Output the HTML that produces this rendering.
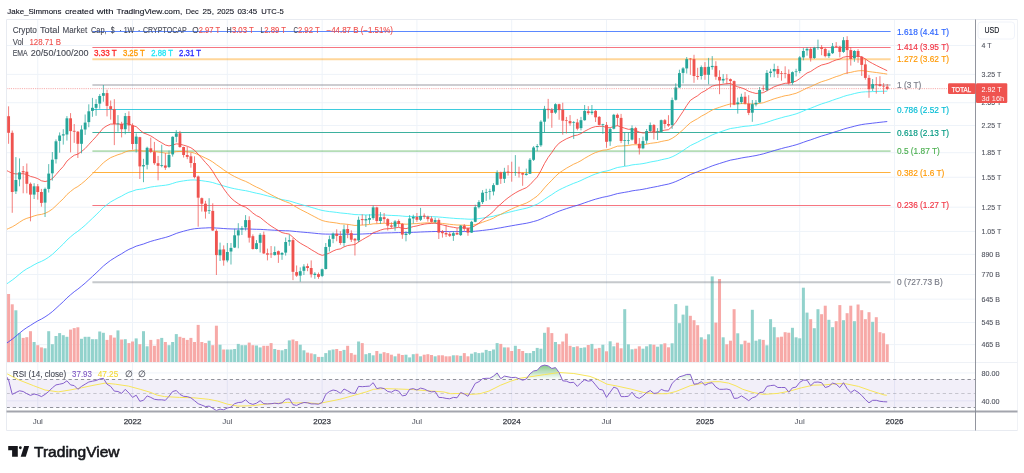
<!DOCTYPE html>
<html><head><meta charset="utf-8"><title>TOTAL chart</title>
<style>html,body{margin:0;padding:0;background:#fff;overflow:hidden}body{width:1024px;height:473px;font-family:"Liberation Sans",sans-serif}</style>
</head><body>
<svg width="1024" height="473" viewBox="0 0 1024 473" style="display:block;font-family:'Liberation Sans', sans-serif">
<filter id="soft" x="0" y="0" width="1024" height="473" filterUnits="userSpaceOnUse"><feGaussianBlur stdDeviation="0.3"/></filter>
<g filter="url(#soft)">
<defs><clipPath id="cp"><rect x="7.0" y="20.0" width="968.0" height="391.0"/></clipPath><clipPath id="c70"><rect x="6.5" y="362.5" width="969.0" height="17.0"/></clipPath><linearGradient id="gg" gradientUnits="userSpaceOnUse" x1="0" y1="358.4" x2="0" y2="379.5"><stop offset="0" stop-color="#4caf50" stop-opacity="1"/><stop offset="1" stop-color="#4caf50" stop-opacity="0"/></linearGradient></defs>
<g stroke="#eef3f9" stroke-width="1" shape-rendering="auto">
<line x1="37.76" y1="19.5" x2="37.76" y2="411.5"/>
<line x1="132.55" y1="19.5" x2="132.55" y2="411.5"/>
<line x1="227.34" y1="19.5" x2="227.34" y2="411.5"/>
<line x1="322.13" y1="19.5" x2="322.13" y2="411.5"/>
<line x1="416.92" y1="19.5" x2="416.92" y2="411.5"/>
<line x1="511.71" y1="19.5" x2="511.71" y2="411.5"/>
<line x1="606.50" y1="19.5" x2="606.50" y2="411.5"/>
<line x1="704.94" y1="19.5" x2="704.94" y2="411.5"/>
<line x1="799.73" y1="19.5" x2="799.73" y2="411.5"/>
<line x1="894.52" y1="19.5" x2="894.52" y2="411.5"/>
<line x1="6.5" y1="45.50" x2="975.5" y2="45.50"/>
<line x1="6.5" y1="74.36" x2="975.5" y2="74.36"/>
<line x1="6.5" y1="102.73" x2="975.5" y2="102.73"/>
<line x1="6.5" y1="125.48" x2="975.5" y2="125.48"/>
<line x1="6.5" y1="152.68" x2="975.5" y2="152.68"/>
<line x1="6.5" y1="177.28" x2="975.5" y2="177.28"/>
<line x1="6.5" y1="207.18" x2="975.5" y2="207.18"/>
<line x1="6.5" y1="231.41" x2="975.5" y2="231.41"/>
<line x1="6.5" y1="254.39" x2="975.5" y2="254.39"/>
<line x1="6.5" y1="274.52" x2="975.5" y2="274.52"/>
<line x1="6.5" y1="299.15" x2="975.5" y2="299.15"/>
<line x1="6.5" y1="322.56" x2="975.5" y2="322.56"/>
<line x1="6.5" y1="344.63" x2="975.5" y2="344.63"/>
<line x1="6.5" y1="372.90" x2="975.5" y2="372.90"/>
<line x1="6.5" y1="400.80" x2="975.5" y2="400.80"/>
</g>
<g clip-path="url(#cp)">
<rect x="7.09" y="294.0" width="3.0" height="68.0" fill="#f7a9a7"/>
<rect x="10.74" y="304.3" width="3.0" height="57.7" fill="#f7a9a7"/>
<rect x="14.38" y="310.3" width="3.0" height="51.7" fill="#92d2cc"/>
<rect x="18.03" y="333.1" width="3.0" height="28.9" fill="#92d2cc"/>
<rect x="21.68" y="337.9" width="3.0" height="24.1" fill="#f7a9a7"/>
<rect x="25.32" y="337.2" width="3.0" height="24.8" fill="#f7a9a7"/>
<rect x="28.97" y="331.2" width="3.0" height="30.8" fill="#f7a9a7"/>
<rect x="32.61" y="342.0" width="3.0" height="20.0" fill="#92d2cc"/>
<rect x="36.26" y="345.2" width="3.0" height="16.8" fill="#f7a9a7"/>
<rect x="39.91" y="347.4" width="3.0" height="14.6" fill="#f7a9a7"/>
<rect x="43.55" y="348.3" width="3.0" height="13.7" fill="#92d2cc"/>
<rect x="47.20" y="331.2" width="3.0" height="30.8" fill="#92d2cc"/>
<rect x="50.84" y="344.2" width="3.0" height="17.8" fill="#92d2cc"/>
<rect x="54.49" y="336.0" width="3.0" height="26.0" fill="#92d2cc"/>
<rect x="58.13" y="333.1" width="3.0" height="28.9" fill="#92d2cc"/>
<rect x="61.78" y="335.2" width="3.0" height="26.8" fill="#92d2cc"/>
<rect x="65.43" y="336.8" width="3.0" height="25.2" fill="#92d2cc"/>
<rect x="69.07" y="329.6" width="3.0" height="32.4" fill="#f7a9a7"/>
<rect x="72.72" y="328.1" width="3.0" height="33.9" fill="#f7a9a7"/>
<rect x="76.36" y="327.3" width="3.0" height="34.7" fill="#f7a9a7"/>
<rect x="80.01" y="338.8" width="3.0" height="23.2" fill="#92d2cc"/>
<rect x="83.65" y="336.8" width="3.0" height="25.2" fill="#92d2cc"/>
<rect x="87.30" y="336.8" width="3.0" height="25.2" fill="#92d2cc"/>
<rect x="90.95" y="339.2" width="3.0" height="22.8" fill="#92d2cc"/>
<rect x="94.59" y="339.2" width="3.0" height="22.8" fill="#92d2cc"/>
<rect x="98.24" y="331.5" width="3.0" height="30.5" fill="#92d2cc"/>
<rect x="101.88" y="332.8" width="3.0" height="29.2" fill="#92d2cc"/>
<rect x="105.53" y="339.9" width="3.0" height="22.1" fill="#f7a9a7"/>
<rect x="109.18" y="335.2" width="3.0" height="26.8" fill="#f7a9a7"/>
<rect x="112.82" y="337.6" width="3.0" height="24.4" fill="#f7a9a7"/>
<rect x="116.47" y="330.4" width="3.0" height="31.6" fill="#92d2cc"/>
<rect x="120.11" y="339.5" width="3.0" height="22.5" fill="#f7a9a7"/>
<rect x="123.76" y="339.2" width="3.0" height="22.8" fill="#92d2cc"/>
<rect x="127.40" y="343.1" width="3.0" height="18.9" fill="#f7a9a7"/>
<rect x="131.05" y="341.5" width="3.0" height="20.5" fill="#f7a9a7"/>
<rect x="134.70" y="338.4" width="3.0" height="23.6" fill="#92d2cc"/>
<rect x="138.34" y="344.2" width="3.0" height="17.8" fill="#f7a9a7"/>
<rect x="141.99" y="331.2" width="3.0" height="30.8" fill="#92d2cc"/>
<rect x="145.63" y="346.3" width="3.0" height="15.7" fill="#92d2cc"/>
<rect x="149.28" y="339.9" width="3.0" height="22.1" fill="#f7a9a7"/>
<rect x="152.92" y="345.8" width="3.0" height="16.2" fill="#f7a9a7"/>
<rect x="156.57" y="339.2" width="3.0" height="22.8" fill="#f7a9a7"/>
<rect x="160.22" y="337.9" width="3.0" height="24.1" fill="#92d2cc"/>
<rect x="163.86" y="342.0" width="3.0" height="20.0" fill="#f7a9a7"/>
<rect x="167.51" y="345.2" width="3.0" height="16.8" fill="#92d2cc"/>
<rect x="171.15" y="342.0" width="3.0" height="20.0" fill="#92d2cc"/>
<rect x="174.80" y="334.1" width="3.0" height="27.9" fill="#92d2cc"/>
<rect x="178.45" y="336.8" width="3.0" height="25.2" fill="#f7a9a7"/>
<rect x="182.09" y="337.9" width="3.0" height="24.1" fill="#f7a9a7"/>
<rect x="185.74" y="339.9" width="3.0" height="22.1" fill="#f7a9a7"/>
<rect x="189.38" y="337.9" width="3.0" height="24.1" fill="#f7a9a7"/>
<rect x="193.03" y="342.0" width="3.0" height="20.0" fill="#f7a9a7"/>
<rect x="196.67" y="324.9" width="3.0" height="37.1" fill="#f7a9a7"/>
<rect x="200.32" y="342.0" width="3.0" height="20.0" fill="#f7a9a7"/>
<rect x="203.97" y="343.1" width="3.0" height="18.9" fill="#f7a9a7"/>
<rect x="207.61" y="340.7" width="3.0" height="21.3" fill="#92d2cc"/>
<rect x="211.26" y="345.2" width="3.0" height="16.8" fill="#f7a9a7"/>
<rect x="214.90" y="325.7" width="3.0" height="36.3" fill="#f7a9a7"/>
<rect x="218.55" y="344.7" width="3.0" height="17.3" fill="#92d2cc"/>
<rect x="222.19" y="349.5" width="3.0" height="12.5" fill="#f7a9a7"/>
<rect x="225.84" y="349.5" width="3.0" height="12.5" fill="#92d2cc"/>
<rect x="229.49" y="349.5" width="3.0" height="12.5" fill="#92d2cc"/>
<rect x="233.13" y="349.0" width="3.0" height="13.0" fill="#92d2cc"/>
<rect x="236.78" y="343.9" width="3.0" height="18.1" fill="#92d2cc"/>
<rect x="240.42" y="345.2" width="3.0" height="16.8" fill="#92d2cc"/>
<rect x="244.07" y="345.2" width="3.0" height="16.8" fill="#92d2cc"/>
<rect x="247.72" y="342.6" width="3.0" height="19.4" fill="#f7a9a7"/>
<rect x="251.36" y="345.2" width="3.0" height="16.8" fill="#f7a9a7"/>
<rect x="255.01" y="345.5" width="3.0" height="16.5" fill="#92d2cc"/>
<rect x="258.65" y="347.4" width="3.0" height="14.6" fill="#92d2cc"/>
<rect x="262.30" y="345.8" width="3.0" height="16.2" fill="#f7a9a7"/>
<rect x="265.94" y="345.8" width="3.0" height="16.2" fill="#f7a9a7"/>
<rect x="269.59" y="343.1" width="3.0" height="18.9" fill="#f7a9a7"/>
<rect x="273.24" y="349.0" width="3.0" height="13.0" fill="#92d2cc"/>
<rect x="276.88" y="349.9" width="3.0" height="12.1" fill="#f7a9a7"/>
<rect x="280.53" y="350.3" width="3.0" height="11.7" fill="#92d2cc"/>
<rect x="284.17" y="349.0" width="3.0" height="13.0" fill="#92d2cc"/>
<rect x="287.82" y="340.4" width="3.0" height="21.6" fill="#92d2cc"/>
<rect x="291.47" y="339.5" width="3.0" height="22.5" fill="#f7a9a7"/>
<rect x="295.11" y="341.1" width="3.0" height="20.9" fill="#f7a9a7"/>
<rect x="298.76" y="344.7" width="3.0" height="17.3" fill="#92d2cc"/>
<rect x="302.40" y="350.3" width="3.0" height="11.7" fill="#92d2cc"/>
<rect x="306.05" y="352.6" width="3.0" height="9.4" fill="#f7a9a7"/>
<rect x="309.69" y="353.4" width="3.0" height="8.6" fill="#f7a9a7"/>
<rect x="313.34" y="354.2" width="3.0" height="7.8" fill="#92d2cc"/>
<rect x="316.99" y="356.9" width="3.0" height="5.1" fill="#f7a9a7"/>
<rect x="320.63" y="356.9" width="3.0" height="5.1" fill="#92d2cc"/>
<rect x="324.28" y="353.1" width="3.0" height="8.9" fill="#92d2cc"/>
<rect x="327.92" y="350.3" width="3.0" height="11.7" fill="#92d2cc"/>
<rect x="331.57" y="349.5" width="3.0" height="12.5" fill="#92d2cc"/>
<rect x="335.21" y="349.0" width="3.0" height="13.0" fill="#f7a9a7"/>
<rect x="338.86" y="351.0" width="3.0" height="11.0" fill="#f7a9a7"/>
<rect x="342.51" y="349.9" width="3.0" height="12.1" fill="#92d2cc"/>
<rect x="346.15" y="345.8" width="3.0" height="16.2" fill="#f7a9a7"/>
<rect x="349.80" y="353.1" width="3.0" height="8.9" fill="#f7a9a7"/>
<rect x="353.44" y="354.7" width="3.0" height="7.3" fill="#f7a9a7"/>
<rect x="357.09" y="341.5" width="3.0" height="20.5" fill="#92d2cc"/>
<rect x="360.74" y="343.1" width="3.0" height="18.9" fill="#f7a9a7"/>
<rect x="364.38" y="354.2" width="3.0" height="7.8" fill="#92d2cc"/>
<rect x="368.03" y="353.1" width="3.0" height="8.9" fill="#92d2cc"/>
<rect x="371.67" y="355.3" width="3.0" height="6.7" fill="#92d2cc"/>
<rect x="375.32" y="351.0" width="3.0" height="11.0" fill="#f7a9a7"/>
<rect x="378.96" y="353.7" width="3.0" height="8.3" fill="#92d2cc"/>
<rect x="382.61" y="352.2" width="3.0" height="9.8" fill="#f7a9a7"/>
<rect x="386.26" y="353.1" width="3.0" height="8.9" fill="#f7a9a7"/>
<rect x="389.90" y="354.7" width="3.0" height="7.3" fill="#f7a9a7"/>
<rect x="393.55" y="356.3" width="3.0" height="5.7" fill="#92d2cc"/>
<rect x="397.19" y="353.7" width="3.0" height="8.3" fill="#f7a9a7"/>
<rect x="400.84" y="355.0" width="3.0" height="7.0" fill="#f7a9a7"/>
<rect x="404.49" y="354.7" width="3.0" height="7.3" fill="#92d2cc"/>
<rect x="408.13" y="357.4" width="3.0" height="4.6" fill="#92d2cc"/>
<rect x="411.78" y="354.2" width="3.0" height="7.8" fill="#92d2cc"/>
<rect x="415.42" y="353.7" width="3.0" height="8.3" fill="#f7a9a7"/>
<rect x="419.07" y="356.3" width="3.0" height="5.7" fill="#92d2cc"/>
<rect x="422.71" y="354.7" width="3.0" height="7.3" fill="#f7a9a7"/>
<rect x="426.36" y="354.2" width="3.0" height="7.8" fill="#f7a9a7"/>
<rect x="430.01" y="355.0" width="3.0" height="7.0" fill="#f7a9a7"/>
<rect x="433.65" y="356.3" width="3.0" height="5.7" fill="#92d2cc"/>
<rect x="437.30" y="355.3" width="3.0" height="6.7" fill="#f7a9a7"/>
<rect x="440.94" y="355.3" width="3.0" height="6.7" fill="#f7a9a7"/>
<rect x="444.59" y="356.3" width="3.0" height="5.7" fill="#f7a9a7"/>
<rect x="448.23" y="356.3" width="3.0" height="5.7" fill="#f7a9a7"/>
<rect x="451.88" y="355.3" width="3.0" height="6.7" fill="#92d2cc"/>
<rect x="455.53" y="355.3" width="3.0" height="6.7" fill="#f7a9a7"/>
<rect x="459.17" y="355.8" width="3.0" height="6.2" fill="#92d2cc"/>
<rect x="462.82" y="353.1" width="3.0" height="8.9" fill="#f7a9a7"/>
<rect x="466.46" y="356.3" width="3.0" height="5.7" fill="#f7a9a7"/>
<rect x="470.11" y="353.7" width="3.0" height="8.3" fill="#92d2cc"/>
<rect x="473.76" y="352.2" width="3.0" height="9.8" fill="#92d2cc"/>
<rect x="477.40" y="353.1" width="3.0" height="8.9" fill="#92d2cc"/>
<rect x="481.05" y="352.6" width="3.0" height="9.4" fill="#92d2cc"/>
<rect x="484.69" y="349.9" width="3.0" height="12.1" fill="#92d2cc"/>
<rect x="488.34" y="351.0" width="3.0" height="11.0" fill="#92d2cc"/>
<rect x="491.98" y="349.5" width="3.0" height="12.5" fill="#92d2cc"/>
<rect x="495.63" y="343.1" width="3.0" height="18.9" fill="#92d2cc"/>
<rect x="499.28" y="343.9" width="3.0" height="18.1" fill="#f7a9a7"/>
<rect x="502.92" y="347.4" width="3.0" height="14.6" fill="#92d2cc"/>
<rect x="506.57" y="347.4" width="3.0" height="14.6" fill="#f7a9a7"/>
<rect x="510.21" y="351.0" width="3.0" height="11.0" fill="#f7a9a7"/>
<rect x="513.86" y="345.8" width="3.0" height="16.2" fill="#92d2cc"/>
<rect x="517.50" y="349.0" width="3.0" height="13.0" fill="#f7a9a7"/>
<rect x="521.15" y="351.0" width="3.0" height="11.0" fill="#f7a9a7"/>
<rect x="524.80" y="353.1" width="3.0" height="8.9" fill="#92d2cc"/>
<rect x="528.44" y="353.1" width="3.0" height="8.9" fill="#92d2cc"/>
<rect x="532.09" y="351.0" width="3.0" height="11.0" fill="#92d2cc"/>
<rect x="535.73" y="347.9" width="3.0" height="14.1" fill="#92d2cc"/>
<rect x="539.38" y="348.7" width="3.0" height="13.3" fill="#92d2cc"/>
<rect x="543.03" y="332.8" width="3.0" height="29.2" fill="#92d2cc"/>
<rect x="546.67" y="327.3" width="3.0" height="34.7" fill="#f7a9a7"/>
<rect x="550.32" y="333.1" width="3.0" height="28.9" fill="#f7a9a7"/>
<rect x="553.96" y="342.0" width="3.0" height="20.0" fill="#92d2cc"/>
<rect x="557.61" y="344.2" width="3.0" height="17.8" fill="#f7a9a7"/>
<rect x="561.25" y="341.5" width="3.0" height="20.5" fill="#f7a9a7"/>
<rect x="564.90" y="333.6" width="3.0" height="28.4" fill="#f7a9a7"/>
<rect x="568.55" y="345.8" width="3.0" height="16.2" fill="#f7a9a7"/>
<rect x="572.19" y="347.1" width="3.0" height="14.9" fill="#92d2cc"/>
<rect x="575.84" y="346.3" width="3.0" height="15.7" fill="#f7a9a7"/>
<rect x="579.48" y="347.9" width="3.0" height="14.1" fill="#92d2cc"/>
<rect x="583.13" y="347.4" width="3.0" height="14.6" fill="#92d2cc"/>
<rect x="586.77" y="345.0" width="3.0" height="17.0" fill="#f7a9a7"/>
<rect x="590.42" y="343.9" width="3.0" height="18.1" fill="#92d2cc"/>
<rect x="594.07" y="348.7" width="3.0" height="13.3" fill="#f7a9a7"/>
<rect x="597.71" y="347.9" width="3.0" height="14.1" fill="#f7a9a7"/>
<rect x="601.36" y="344.7" width="3.0" height="17.3" fill="#92d2cc"/>
<rect x="605.00" y="351.3" width="3.0" height="10.7" fill="#f7a9a7"/>
<rect x="608.65" y="341.3" width="3.0" height="20.7" fill="#92d2cc"/>
<rect x="612.30" y="346.3" width="3.0" height="15.7" fill="#92d2cc"/>
<rect x="615.94" y="342.7" width="3.0" height="19.3" fill="#f7a9a7"/>
<rect x="619.59" y="348.3" width="3.0" height="13.7" fill="#f7a9a7"/>
<rect x="623.23" y="309.2" width="3.0" height="52.8" fill="#92d2cc"/>
<rect x="626.88" y="344.3" width="3.0" height="17.7" fill="#92d2cc"/>
<rect x="630.52" y="349.3" width="3.0" height="12.7" fill="#92d2cc"/>
<rect x="634.17" y="348.7" width="3.0" height="13.3" fill="#f7a9a7"/>
<rect x="637.82" y="346.3" width="3.0" height="15.7" fill="#f7a9a7"/>
<rect x="641.46" y="348.7" width="3.0" height="13.3" fill="#92d2cc"/>
<rect x="645.11" y="346.3" width="3.0" height="15.7" fill="#92d2cc"/>
<rect x="648.75" y="344.3" width="3.0" height="17.7" fill="#92d2cc"/>
<rect x="652.40" y="344.7" width="3.0" height="17.3" fill="#f7a9a7"/>
<rect x="656.05" y="346.7" width="3.0" height="15.3" fill="#92d2cc"/>
<rect x="659.69" y="344.3" width="3.0" height="17.7" fill="#92d2cc"/>
<rect x="663.34" y="343.3" width="3.0" height="18.7" fill="#f7a9a7"/>
<rect x="666.98" y="347.3" width="3.0" height="14.7" fill="#f7a9a7"/>
<rect x="670.63" y="343.3" width="3.0" height="18.7" fill="#92d2cc"/>
<rect x="674.27" y="304.1" width="3.0" height="57.9" fill="#92d2cc"/>
<rect x="677.92" y="323.2" width="3.0" height="38.8" fill="#92d2cc"/>
<rect x="681.57" y="314.6" width="3.0" height="47.4" fill="#92d2cc"/>
<rect x="685.21" y="305.7" width="3.0" height="56.3" fill="#92d2cc"/>
<rect x="688.86" y="315.8" width="3.0" height="46.2" fill="#f7a9a7"/>
<rect x="692.50" y="320.2" width="3.0" height="41.8" fill="#f7a9a7"/>
<rect x="696.15" y="325.2" width="3.0" height="36.8" fill="#f7a9a7"/>
<rect x="699.79" y="337.3" width="3.0" height="24.7" fill="#92d2cc"/>
<rect x="703.44" y="339.3" width="3.0" height="22.7" fill="#f7a9a7"/>
<rect x="707.09" y="334.3" width="3.0" height="27.7" fill="#92d2cc"/>
<rect x="710.73" y="276.4" width="3.0" height="85.6" fill="#92d2cc"/>
<rect x="714.38" y="322.6" width="3.0" height="39.4" fill="#f7a9a7"/>
<rect x="718.02" y="279.0" width="3.0" height="83.0" fill="#f7a9a7"/>
<rect x="721.67" y="337.3" width="3.0" height="24.7" fill="#92d2cc"/>
<rect x="725.32" y="344.3" width="3.0" height="17.7" fill="#f7a9a7"/>
<rect x="728.96" y="340.7" width="3.0" height="21.3" fill="#f7a9a7"/>
<rect x="732.61" y="309.2" width="3.0" height="52.8" fill="#f7a9a7"/>
<rect x="736.25" y="333.3" width="3.0" height="28.7" fill="#92d2cc"/>
<rect x="739.90" y="344.3" width="3.0" height="17.7" fill="#92d2cc"/>
<rect x="743.54" y="340.7" width="3.0" height="21.3" fill="#f7a9a7"/>
<rect x="747.19" y="342.7" width="3.0" height="19.3" fill="#f7a9a7"/>
<rect x="750.84" y="309.8" width="3.0" height="52.2" fill="#92d2cc"/>
<rect x="754.48" y="340.7" width="3.0" height="21.3" fill="#92d2cc"/>
<rect x="758.13" y="339.3" width="3.0" height="22.7" fill="#92d2cc"/>
<rect x="761.77" y="339.9" width="3.0" height="22.1" fill="#f7a9a7"/>
<rect x="765.42" y="345.3" width="3.0" height="16.7" fill="#92d2cc"/>
<rect x="769.07" y="319.2" width="3.0" height="42.8" fill="#92d2cc"/>
<rect x="772.71" y="327.2" width="3.0" height="34.8" fill="#92d2cc"/>
<rect x="776.36" y="337.3" width="3.0" height="24.7" fill="#f7a9a7"/>
<rect x="780.00" y="336.7" width="3.0" height="25.3" fill="#f7a9a7"/>
<rect x="783.65" y="332.2" width="3.0" height="29.8" fill="#f7a9a7"/>
<rect x="787.29" y="332.7" width="3.0" height="29.3" fill="#f7a9a7"/>
<rect x="790.94" y="327.8" width="3.0" height="34.2" fill="#92d2cc"/>
<rect x="794.59" y="337.3" width="3.0" height="24.7" fill="#92d2cc"/>
<rect x="798.23" y="338.3" width="3.0" height="23.7" fill="#92d2cc"/>
<rect x="801.88" y="287.7" width="3.0" height="74.3" fill="#92d2cc"/>
<rect x="805.52" y="312.6" width="3.0" height="49.4" fill="#92d2cc"/>
<rect x="809.17" y="319.2" width="3.0" height="42.8" fill="#f7a9a7"/>
<rect x="812.81" y="328.2" width="3.0" height="33.8" fill="#92d2cc"/>
<rect x="816.46" y="309.2" width="3.0" height="52.8" fill="#92d2cc"/>
<rect x="820.11" y="314.2" width="3.0" height="47.8" fill="#f7a9a7"/>
<rect x="823.75" y="305.7" width="3.0" height="56.3" fill="#f7a9a7"/>
<rect x="827.40" y="319.8" width="3.0" height="42.2" fill="#92d2cc"/>
<rect x="831.04" y="327.2" width="3.0" height="34.8" fill="#92d2cc"/>
<rect x="834.69" y="321.2" width="3.0" height="40.8" fill="#f7a9a7"/>
<rect x="838.34" y="305.1" width="3.0" height="56.9" fill="#f7a9a7"/>
<rect x="841.98" y="320.2" width="3.0" height="41.8" fill="#92d2cc"/>
<rect x="845.63" y="313.2" width="3.0" height="48.8" fill="#f7a9a7"/>
<rect x="849.27" y="305.7" width="3.0" height="56.3" fill="#f7a9a7"/>
<rect x="852.92" y="321.2" width="3.0" height="40.8" fill="#92d2cc"/>
<rect x="856.56" y="304.5" width="3.0" height="57.5" fill="#f7a9a7"/>
<rect x="860.21" y="310.2" width="3.0" height="51.8" fill="#f7a9a7"/>
<rect x="863.86" y="319.2" width="3.0" height="42.8" fill="#f7a9a7"/>
<rect x="867.50" y="312.2" width="3.0" height="49.8" fill="#f7a9a7"/>
<rect x="871.15" y="321.8" width="3.0" height="40.2" fill="#92d2cc"/>
<rect x="874.79" y="317.2" width="3.0" height="44.8" fill="#f7a9a7"/>
<rect x="878.44" y="332.2" width="3.0" height="29.8" fill="#f7a9a7"/>
<rect x="882.08" y="333.3" width="3.0" height="28.7" fill="#f7a9a7"/>
<rect x="885.73" y="344.3" width="3.0" height="17.7" fill="#f7a9a7"/>
<line x1="92.4" y1="31.50" x2="890.6" y2="31.50" stroke="#2962ff" stroke-width="0.85" stroke-opacity="0.9"/>
<line x1="92.4" y1="47.50" x2="890.6" y2="47.50" stroke="#f23645" stroke-width="0.85" stroke-opacity="0.8"/>
<line x1="92.4" y1="59.20" x2="890.6" y2="59.20" stroke="#ff9800" stroke-width="1.9" stroke-opacity="0.4"/>
<line x1="92.4" y1="85.00" x2="890.6" y2="85.00" stroke="#787b86" stroke-width="1.9" stroke-opacity="0.38"/>
<line x1="92.4" y1="109.50" x2="890.6" y2="109.50" stroke="#00bcd4" stroke-width="0.85" stroke-opacity="0.9"/>
<line x1="92.4" y1="132.50" x2="890.6" y2="132.50" stroke="#089981" stroke-width="0.85" stroke-opacity="0.9"/>
<line x1="92.4" y1="151.20" x2="890.6" y2="151.20" stroke="#4caf50" stroke-width="1.8" stroke-opacity="0.42"/>
<line x1="92.4" y1="172.50" x2="890.6" y2="172.50" stroke="#ff9800" stroke-width="0.85" stroke-opacity="0.9"/>
<line x1="92.4" y1="205.50" x2="890.6" y2="205.50" stroke="#f23645" stroke-width="0.85" stroke-opacity="0.8"/>
<line x1="92.4" y1="282.20" x2="890.6" y2="282.20" stroke="#787b86" stroke-width="2.0" stroke-opacity="0.42"/>
<polyline points="6.50,343.32 8.59,341.80 12.24,339.15 15.88,336.21 19.53,333.14 23.18,330.16 26.82,327.60 30.47,325.40 34.11,323.04 37.76,320.89 41.41,319.05 45.05,316.92 48.70,314.45 52.34,311.65 55.99,308.36 59.63,304.99 63.28,301.69 66.93,297.95 70.57,294.78 74.22,291.72 77.86,289.12 81.51,286.17 85.15,283.11 88.80,279.77 92.45,276.43 96.09,273.07 99.74,269.55 103.38,266.06 107.03,263.09 110.68,260.32 114.32,258.03 117.97,255.79 121.61,253.75 125.26,251.43 128.90,249.40 132.55,247.84 136.20,246.16 139.84,245.09 143.49,244.02 147.13,242.64 150.78,241.38 154.42,240.33 158.07,239.36 161.72,238.38 165.36,237.47 169.01,236.35 172.65,234.91 176.30,233.43 179.95,232.25 183.59,231.22 187.24,230.25 190.88,229.39 194.53,228.76 198.17,228.41 201.82,228.14 205.47,227.97 209.11,227.78 212.76,227.81 216.40,228.05 220.05,228.25 223.69,228.54 227.34,228.75 230.99,228.93 234.63,228.99 238.28,229.01 241.92,229.00 245.57,228.91 249.22,228.99 252.86,229.18 256.51,229.31 260.15,229.36 263.80,229.58 267.44,229.81 271.09,230.04 274.74,230.24 278.38,230.46 282.03,230.67 285.67,230.78 289.32,230.87 292.97,231.22 296.61,231.60 300.26,231.94 303.90,232.25 307.55,232.56 311.19,232.92 314.84,233.28 318.49,233.65 322.13,233.96 325.78,234.09 329.42,234.14 333.07,234.13 336.71,234.15 340.36,234.24 344.01,234.19 347.65,234.18 351.30,234.23 354.94,234.29 358.59,234.14 362.24,233.99 365.88,233.84 369.53,233.67 373.17,233.38 376.82,233.25 380.46,233.08 384.11,232.94 387.76,232.86 391.40,232.80 395.05,232.68 398.69,232.59 402.34,232.61 405.99,232.62 409.63,232.48 413.28,232.31 416.92,232.18 420.57,232.01 424.21,231.85 427.86,231.72 431.51,231.62 435.15,231.50 438.80,231.51 442.44,231.52 446.09,231.55 449.73,231.59 453.38,231.61 457.03,231.64 460.67,231.58 464.32,231.55 467.96,231.56 471.61,231.46 475.26,231.20 478.90,230.87 482.55,230.44 486.19,230.00 489.84,229.56 493.48,229.04 497.13,228.34 500.78,227.75 504.42,227.07 508.07,226.41 511.71,225.76 515.36,225.11 519.00,224.49 522.65,223.89 526.30,223.29 529.94,222.49 533.59,221.51 537.23,220.51 540.88,219.09 544.53,217.42 548.17,215.82 551.82,214.31 555.46,212.65 559.11,211.15 562.75,209.89 566.40,208.65 570.05,207.49 573.69,206.32 577.34,205.29 580.98,204.13 584.63,202.81 588.27,201.56 591.92,200.31 595.57,199.18 599.21,198.21 602.86,197.24 606.50,196.56 610.15,195.70 613.80,194.61 617.44,193.60 621.09,192.96 624.73,192.32 628.38,191.69 632.02,190.89 635.67,190.34 639.32,189.85 642.96,189.27 646.61,188.55 650.25,187.75 653.90,187.08 657.55,186.40 661.19,185.56 664.84,184.79 668.48,184.06 672.13,182.91 675.77,181.56 679.42,179.93 683.07,178.24 686.71,176.37 690.36,174.56 694.00,173.14 697.65,171.76 701.29,170.22 704.94,168.86 708.59,167.37 712.23,165.89 715.88,164.65 719.52,163.51 723.17,162.35 726.82,161.23 730.46,160.15 734.11,159.47 737.75,158.77 741.40,158.00 745.04,157.34 748.69,156.82 752.34,156.18 755.98,155.54 759.63,154.71 763.27,153.87 766.92,152.78 770.57,151.69 774.21,150.57 777.86,149.56 781.50,148.56 785.15,147.57 788.79,146.76 792.44,145.78 796.09,144.81 799.73,143.60 803.38,142.30 807.02,140.98 810.67,139.86 814.31,138.56 817.96,137.28 821.61,136.06 825.25,134.99 828.90,133.88 832.54,132.68 836.19,131.50 839.84,130.43 843.48,129.17 847.13,128.12 850.77,127.23 854.42,126.22 858.06,125.33 861.71,124.58 865.36,124.03 869.00,123.63 872.65,123.18 876.29,122.74 879.94,122.32 883.58,121.91 887.23,121.54" fill="none" stroke="#4646f5" stroke-width="0.85" stroke-linejoin="round" />
<polyline points="6.50,284.04 8.59,282.60 12.24,280.09 15.88,277.22 19.53,274.16 23.18,271.22 26.82,268.83 30.47,266.90 34.11,264.75 37.76,262.87 41.41,261.39 45.05,259.52 48.70,257.19 52.34,254.42 55.99,251.00 59.63,247.48 63.28,244.06 66.93,240.07 70.57,236.83 74.22,233.75 77.86,231.27 81.51,228.33 85.15,225.23 88.80,221.78 92.45,218.32 96.09,214.86 99.74,211.18 103.38,207.55 107.03,204.61 110.68,201.92 114.32,199.87 117.97,197.87 121.61,196.12 125.26,193.99 128.90,192.25 132.55,191.11 136.20,189.79 139.84,189.29 143.49,188.77 147.13,187.83 150.78,187.02 154.42,186.50 158.07,186.06 161.72,185.61 165.36,185.23 169.01,184.57 172.65,183.44 176.30,182.25 179.95,181.46 183.59,180.89 187.24,180.37 190.88,180.00 194.53,179.94 198.17,180.27 201.82,180.70 205.47,181.25 209.11,181.77 212.76,182.59 216.40,183.71 220.05,184.75 223.69,185.91 227.34,186.96 230.99,187.94 234.63,188.74 238.28,189.45 241.92,190.12 245.57,190.66 249.22,191.45 252.86,192.39 256.51,193.23 260.15,193.94 263.80,194.91 267.44,195.87 271.09,196.82 274.74,197.73 278.38,198.65 282.03,199.55 285.67,200.27 289.32,200.96 292.97,202.07 296.61,203.20 300.26,204.27 303.90,205.27 307.55,206.27 311.19,207.34 314.84,208.39 318.49,209.47 322.13,210.43 325.78,211.07 329.42,211.58 333.07,211.98 336.71,212.42 340.36,212.96 344.01,213.27 347.65,213.64 351.30,214.11 354.94,214.59 358.59,214.69 362.24,214.79 365.88,214.88 369.53,214.94 373.17,214.79 376.82,214.91 380.46,214.95 384.11,215.03 387.76,215.24 391.40,215.45 395.05,215.57 398.69,215.73 402.34,216.08 405.99,216.41 409.63,216.45 413.28,216.46 416.92,216.52 420.57,216.51 424.21,216.51 427.86,216.57 431.51,216.67 435.15,216.74 438.80,217.03 442.44,217.34 446.09,217.66 449.73,217.99 453.38,218.28 457.03,218.58 460.67,218.72 464.32,218.91 467.96,219.17 471.61,219.22 475.26,218.97 478.90,218.62 482.55,218.05 486.19,217.49 489.84,216.92 493.48,216.21 497.13,215.20 500.78,214.38 504.42,213.40 508.07,212.47 511.71,211.56 515.36,210.66 519.00,209.82 522.65,209.03 526.30,208.23 529.94,207.09 533.59,205.62 537.23,204.16 540.88,201.95 544.53,199.34 548.17,196.89 551.82,194.62 555.46,192.12 559.11,189.93 562.75,188.16 566.40,186.46 570.05,184.88 573.69,183.32 577.34,182.00 580.98,180.47 584.63,178.69 588.27,177.04 591.92,175.40 595.57,173.98 599.21,172.82 602.86,171.67 606.50,171.01 610.15,170.05 613.80,168.71 617.44,167.50 621.09,166.92 624.73,166.34 628.38,165.76 632.02,164.91 635.67,164.46 639.32,164.12 642.96,163.62 646.61,162.90 650.25,162.04 653.90,161.38 657.55,160.72 661.19,159.80 664.84,158.99 668.48,158.24 672.13,156.82 675.77,155.05 679.42,152.86 683.07,150.58 686.71,148.04 690.36,145.60 694.00,143.82 697.65,142.13 701.29,140.17 704.94,138.53 708.59,136.68 712.23,134.87 715.88,133.45 719.52,132.18 723.17,130.90 726.82,129.66 730.46,128.52 734.11,128.00 737.75,127.45 741.40,126.77 745.04,126.27 748.69,125.99 752.34,125.53 755.98,125.04 759.63,124.25 763.27,123.46 766.92,122.26 770.57,121.05 774.21,119.81 777.86,118.74 781.50,117.69 785.15,116.66 788.79,115.91 792.44,114.90 796.09,113.89 799.73,112.52 803.38,111.00 807.02,109.45 810.67,108.23 814.31,106.74 817.96,105.28 821.61,103.91 825.25,102.78 828.90,101.61 832.54,100.27 836.19,98.98 839.84,97.87 843.48,96.47 847.13,95.38 850.77,94.56 854.42,93.55 858.06,92.72 861.71,92.11 865.36,91.81 869.00,91.76 872.65,91.60 876.29,91.47 879.94,91.36 883.58,91.26 887.23,91.21" fill="none" stroke="#3cf0fa" stroke-width="0.85" stroke-linejoin="round" />
<polyline points="6.50,229.43 8.59,228.50 12.24,226.87 15.88,224.70 19.53,222.24 23.18,219.90 26.82,218.30 30.47,217.29 34.11,215.93 37.76,214.91 41.41,214.42 45.05,213.33 48.70,211.54 52.34,209.09 55.99,205.71 59.63,202.17 63.28,198.78 66.93,194.57 70.57,191.45 74.22,188.55 77.86,186.50 81.51,183.76 85.15,180.78 88.80,177.29 92.45,173.80 96.09,170.29 99.74,166.49 103.38,162.75 107.03,160.02 110.68,157.63 114.32,156.15 117.97,154.71 121.61,153.62 125.26,151.94 128.90,150.80 132.55,150.52 136.20,149.95 139.84,150.56 143.49,151.10 147.13,150.97 150.78,151.00 154.42,151.46 158.07,152.00 161.72,152.49 165.36,153.05 169.01,153.13 172.65,152.45 176.30,151.65 179.95,151.47 183.59,151.60 187.24,151.81 190.88,152.23 194.53,153.13 198.17,154.63 201.82,156.26 205.47,158.06 209.11,159.78 212.76,161.97 216.40,164.66 220.05,167.17 223.69,169.86 227.34,172.31 230.99,174.62 234.63,176.56 238.28,178.32 241.92,179.98 245.57,181.35 249.22,183.18 252.86,185.25 256.51,187.12 260.15,188.71 263.80,190.76 267.44,192.78 271.09,194.75 274.74,196.60 278.38,198.47 282.03,200.25 285.67,201.68 289.32,203.00 292.97,205.15 296.61,207.33 300.26,209.35 303.90,211.20 307.55,213.04 311.19,215.00 314.84,216.89 318.49,218.82 322.13,220.49 325.78,221.44 329.42,222.10 333.07,222.53 336.71,223.03 340.36,223.77 344.01,223.98 347.65,224.33 351.30,224.90 354.94,225.48 358.59,225.26 362.24,225.05 365.88,224.81 369.53,224.54 373.17,223.83 376.82,223.72 380.46,223.46 384.11,223.28 387.76,223.38 391.40,223.51 395.05,223.42 398.69,223.44 402.34,223.86 405.99,224.23 409.63,224.01 413.28,223.72 416.92,223.56 420.57,223.25 424.21,222.99 427.86,222.84 431.51,222.80 435.15,222.69 438.80,223.07 442.44,223.45 446.09,223.87 449.73,224.32 453.38,224.66 457.03,225.03 460.67,225.05 464.32,225.20 467.96,225.48 471.61,225.33 475.26,224.58 478.90,223.62 482.55,222.27 486.19,220.96 489.84,219.67 493.48,218.14 497.13,216.03 500.78,214.37 504.42,212.43 508.07,210.64 511.71,208.95 515.36,207.31 519.00,205.81 522.65,204.44 526.30,203.10 529.94,201.12 533.59,198.58 537.23,196.10 540.88,192.29 544.53,187.87 548.17,183.85 551.82,180.26 555.46,176.35 559.11,173.06 562.75,170.59 566.40,168.26 570.05,166.20 573.69,164.18 577.34,162.60 580.98,160.67 584.63,158.34 588.27,156.26 591.92,154.21 595.57,152.56 599.21,151.37 602.86,150.20 606.50,149.86 610.15,148.98 613.80,147.47 617.44,146.18 621.09,145.98 624.73,145.74 628.38,145.51 632.02,144.78 635.67,144.74 639.32,144.88 642.96,144.73 646.61,144.17 650.25,143.36 653.90,142.92 657.55,142.45 661.19,141.50 664.84,140.77 668.48,140.15 672.13,138.34 675.77,135.95 679.42,132.87 683.07,129.69 686.71,126.13 690.36,122.80 694.00,120.64 697.65,118.64 701.29,116.21 704.94,114.33 708.59,112.13 712.23,109.99 715.88,108.53 719.52,107.31 723.17,106.08 726.82,104.93 730.46,103.91 734.11,103.94 737.75,103.88 741.40,103.60 745.04,103.60 748.69,103.95 752.34,103.96 755.98,103.91 759.63,103.34 763.27,102.75 766.92,101.45 770.57,100.15 774.21,98.79 777.86,97.73 781.50,96.70 785.15,95.72 788.79,95.20 792.44,94.22 796.09,93.26 799.73,91.66 803.38,89.82 807.02,87.97 810.67,86.68 814.31,84.92 817.96,83.23 821.61,81.71 825.25,80.62 828.90,79.43 832.54,77.97 836.19,76.60 839.84,75.55 843.48,73.98 847.13,72.96 850.77,72.39 854.42,71.48 858.06,70.87 861.71,70.63 865.36,70.91 869.00,71.58 872.65,72.05 876.29,72.53 879.94,73.04 883.58,73.54 887.23,74.11" fill="none" stroke="#ffa033" stroke-width="0.85" stroke-linejoin="round" />
<polyline points="6.50,170.45 8.59,171.50 12.24,173.33 15.88,173.95 19.53,173.80 23.18,173.67 26.82,174.60 30.47,176.39 34.11,177.30 37.76,178.64 41.41,180.77 45.05,181.53 48.70,180.75 52.34,178.60 55.99,174.59 59.63,170.35 63.28,166.49 66.93,161.11 70.57,157.95 74.22,155.23 77.86,154.10 81.51,151.56 85.15,148.53 88.80,144.52 92.45,140.57 96.09,136.64 99.74,132.22 103.38,127.98 107.03,125.72 110.68,124.05 114.32,124.05 117.97,123.99 121.61,124.48 125.26,123.66 128.90,123.83 132.55,125.63 136.20,126.63 139.84,129.97 143.49,132.96 147.13,134.30 150.78,135.88 154.42,138.26 158.07,140.66 161.72,142.80 165.36,144.99 169.01,145.91 172.65,145.02 176.30,143.87 179.95,144.17 183.59,145.16 187.24,146.24 190.88,147.75 194.53,150.29 198.17,154.17 201.82,158.20 205.47,162.49 209.11,166.39 212.76,171.37 216.40,177.49 220.05,182.95 223.69,188.73 227.34,193.65 230.99,198.00 234.63,201.15 238.28,203.68 241.92,205.84 245.57,207.14 249.22,209.78 252.86,213.07 256.51,215.67 260.15,217.39 263.80,220.44 267.44,223.36 271.09,226.04 274.74,228.31 278.38,230.62 282.03,232.60 285.67,233.47 289.32,234.10 292.97,237.28 296.61,240.51 300.26,243.15 303.90,245.22 307.55,247.23 311.19,249.60 314.84,251.73 318.49,253.94 322.13,255.33 325.78,254.51 329.42,252.99 333.07,251.03 336.71,249.52 340.36,248.88 344.01,246.90 347.65,245.54 351.30,244.98 354.94,244.54 358.59,241.99 362.24,239.75 365.88,237.64 369.53,235.66 373.17,232.71 376.82,231.55 380.46,230.12 384.11,229.03 387.76,228.71 391.40,228.52 395.05,227.82 398.69,227.44 402.34,228.11 405.99,228.63 409.63,227.63 413.28,226.57 416.92,225.91 420.57,224.92 424.21,224.13 427.86,223.64 431.51,223.47 435.15,223.15 438.80,224.02 442.44,224.87 446.09,225.76 449.73,226.69 453.38,227.29 457.03,227.96 460.67,227.74 464.32,227.84 467.96,228.28 471.61,227.65 475.26,225.57 478.90,223.16 482.55,219.95 486.19,217.06 489.84,214.38 493.48,211.31 497.13,207.11 500.78,204.15 504.42,200.72 508.07,197.81 511.71,195.23 515.36,192.87 519.00,190.88 522.65,189.25 526.30,187.69 529.94,184.78 533.59,180.76 537.23,177.05 540.88,170.72 544.53,163.48 548.17,157.42 551.82,152.51 555.46,147.11 559.11,143.13 562.75,140.83 566.40,138.81 570.05,137.25 573.69,135.74 577.34,135.05 580.98,133.57 584.63,131.24 588.27,129.41 591.92,127.61 595.57,126.59 599.21,126.43 602.86,126.22 606.50,127.63 610.15,127.77 613.80,126.48 617.44,125.64 621.09,127.03 624.73,128.22 628.38,129.30 632.02,129.18 635.67,130.51 639.32,132.11 642.96,132.94 646.61,132.75 650.25,132.00 653.90,132.04 657.55,131.97 661.19,130.81 664.84,130.15 668.48,129.71 672.13,126.60 675.77,122.36 679.42,116.84 683.07,111.43 686.71,105.51 690.36,100.38 694.00,97.87 697.65,95.73 701.29,92.73 704.94,90.92 708.59,88.44 712.23,86.13 715.88,85.20 719.52,84.75 723.17,84.18 726.82,83.71 730.46,83.46 734.11,85.34 737.75,86.87 741.40,87.79 745.04,89.22 748.69,91.31 752.34,92.49 755.98,93.44 759.63,93.11 763.27,92.72 766.92,90.71 770.57,88.77 774.21,86.76 777.86,85.48 781.50,84.32 785.15,83.26 788.79,83.24 792.44,82.15 796.09,81.09 799.73,78.65 803.38,75.77 807.02,72.98 810.67,71.51 814.31,69.05 817.96,66.82 821.61,65.01 825.25,64.14 828.90,63.06 832.54,61.37 836.19,59.91 839.84,59.12 843.48,57.21 847.13,56.51 850.77,56.75 854.42,56.19 858.06,56.24 861.71,57.04 865.36,58.90 869.00,61.52 872.65,63.52 876.29,65.41 879.94,67.24 883.58,68.96 887.23,70.74" fill="none" stroke="#f5443e" stroke-width="0.85" stroke-linejoin="round" />
<line x1="8.59" y1="106.3" x2="8.59" y2="143.8" stroke="#ef5350" stroke-width="0.75"/>
<rect x="7.17" y="116.2" width="2.85" height="16.6" fill="#ef5350"/>
<line x1="12.24" y1="130.5" x2="12.24" y2="212.8" stroke="#ef5350" stroke-width="0.75"/>
<rect x="10.81" y="132.8" width="2.85" height="59.2" fill="#ef5350"/>
<line x1="15.88" y1="157.1" x2="15.88" y2="194.0" stroke="#26a69a" stroke-width="0.75"/>
<rect x="14.46" y="180.0" width="2.85" height="11.4" fill="#26a69a"/>
<line x1="19.53" y1="158.4" x2="19.53" y2="186.3" stroke="#26a69a" stroke-width="0.75"/>
<rect x="18.11" y="172.4" width="2.85" height="7.0" fill="#26a69a"/>
<line x1="23.18" y1="166.0" x2="23.18" y2="193.3" stroke="#ef5350" stroke-width="0.75"/>
<rect x="21.75" y="171.1" width="2.85" height="1.3" fill="#ef5350"/>
<line x1="26.82" y1="163.5" x2="26.82" y2="193.3" stroke="#ef5350" stroke-width="0.75"/>
<rect x="25.40" y="171.7" width="2.85" height="12.1" fill="#ef5350"/>
<line x1="30.47" y1="182.5" x2="30.47" y2="221.3" stroke="#ef5350" stroke-width="0.75"/>
<rect x="29.04" y="183.8" width="2.85" height="10.8" fill="#ef5350"/>
<line x1="34.11" y1="183.2" x2="34.11" y2="199.0" stroke="#26a69a" stroke-width="0.75"/>
<rect x="32.69" y="186.3" width="2.85" height="8.3" fill="#26a69a"/>
<line x1="37.76" y1="184.0" x2="37.76" y2="199.7" stroke="#ef5350" stroke-width="0.75"/>
<rect x="36.33" y="186.3" width="2.85" height="5.7" fill="#ef5350"/>
<line x1="41.41" y1="188.9" x2="41.41" y2="206.7" stroke="#ef5350" stroke-width="0.75"/>
<rect x="39.98" y="192.0" width="2.85" height="10.9" fill="#ef5350"/>
<line x1="45.05" y1="187.6" x2="45.05" y2="217.0" stroke="#26a69a" stroke-width="0.75"/>
<rect x="43.63" y="188.9" width="2.85" height="13.7" fill="#26a69a"/>
<line x1="48.70" y1="164.1" x2="48.70" y2="192.5" stroke="#26a69a" stroke-width="0.75"/>
<rect x="47.27" y="173.6" width="2.85" height="15.3" fill="#26a69a"/>
<line x1="52.34" y1="152.0" x2="52.34" y2="180.6" stroke="#26a69a" stroke-width="0.75"/>
<rect x="50.92" y="159.7" width="2.85" height="13.6" fill="#26a69a"/>
<line x1="55.99" y1="139.4" x2="55.99" y2="163.5" stroke="#26a69a" stroke-width="0.75"/>
<rect x="54.56" y="141.3" width="2.85" height="17.9" fill="#26a69a"/>
<line x1="59.63" y1="132.4" x2="59.63" y2="152.7" stroke="#26a69a" stroke-width="0.75"/>
<rect x="58.21" y="135.5" width="2.85" height="5.4" fill="#26a69a"/>
<line x1="63.28" y1="129.2" x2="63.28" y2="144.6" stroke="#26a69a" stroke-width="0.75"/>
<rect x="61.85" y="134.3" width="2.85" height="1.2" fill="#26a69a"/>
<line x1="66.93" y1="116.1" x2="66.93" y2="140.6" stroke="#26a69a" stroke-width="0.75"/>
<rect x="65.50" y="118.3" width="2.85" height="16.2" fill="#26a69a"/>
<line x1="70.57" y1="113.1" x2="70.57" y2="152.4" stroke="#ef5350" stroke-width="0.75"/>
<rect x="69.15" y="118.3" width="2.85" height="12.8" fill="#ef5350"/>
<line x1="74.22" y1="124.0" x2="74.22" y2="142.9" stroke="#ef5350" stroke-width="0.75"/>
<rect x="72.79" y="130.8" width="2.85" height="0.9" fill="#ef5350"/>
<line x1="77.86" y1="131.0" x2="77.86" y2="158.0" stroke="#ef5350" stroke-width="0.75"/>
<rect x="76.44" y="131.7" width="2.85" height="12.1" fill="#ef5350"/>
<line x1="81.51" y1="125.4" x2="81.51" y2="153.3" stroke="#26a69a" stroke-width="0.75"/>
<rect x="80.08" y="129.5" width="2.85" height="14.3" fill="#26a69a"/>
<line x1="85.15" y1="114.5" x2="85.15" y2="134.9" stroke="#26a69a" stroke-width="0.75"/>
<rect x="83.73" y="122.6" width="2.85" height="6.9" fill="#26a69a"/>
<line x1="88.80" y1="104.3" x2="88.80" y2="127.2" stroke="#26a69a" stroke-width="0.75"/>
<rect x="87.38" y="111.3" width="2.85" height="10.8" fill="#26a69a"/>
<line x1="92.45" y1="97.9" x2="92.45" y2="116.8" stroke="#26a69a" stroke-width="0.75"/>
<rect x="91.02" y="107.8" width="2.85" height="3.1" fill="#26a69a"/>
<line x1="96.09" y1="99.2" x2="96.09" y2="115.8" stroke="#26a69a" stroke-width="0.75"/>
<rect x="94.67" y="104.0" width="2.85" height="3.8" fill="#26a69a"/>
<line x1="99.74" y1="94.1" x2="99.74" y2="108.7" stroke="#26a69a" stroke-width="0.75"/>
<rect x="98.31" y="96.0" width="2.85" height="7.6" fill="#26a69a"/>
<line x1="103.38" y1="85.0" x2="103.38" y2="101.7" stroke="#26a69a" stroke-width="0.75"/>
<rect x="101.96" y="93.1" width="2.85" height="2.7" fill="#26a69a"/>
<line x1="107.03" y1="89.7" x2="107.03" y2="116.4" stroke="#ef5350" stroke-width="0.75"/>
<rect x="105.60" y="93.1" width="2.85" height="12.8" fill="#ef5350"/>
<line x1="110.68" y1="100.5" x2="110.68" y2="119.6" stroke="#ef5350" stroke-width="0.75"/>
<rect x="109.25" y="106.2" width="2.85" height="2.9" fill="#ef5350"/>
<line x1="114.32" y1="99.2" x2="114.32" y2="145.1" stroke="#ef5350" stroke-width="0.75"/>
<rect x="112.90" y="109.1" width="2.85" height="14.9" fill="#ef5350"/>
<line x1="117.97" y1="115.1" x2="117.97" y2="131.7" stroke="#26a69a" stroke-width="0.75"/>
<rect x="116.54" y="123.5" width="2.85" height="0.7" fill="#26a69a"/>
<line x1="121.61" y1="121.8" x2="121.61" y2="137.4" stroke="#ef5350" stroke-width="0.75"/>
<rect x="120.19" y="123.8" width="2.85" height="5.4" fill="#ef5350"/>
<line x1="125.26" y1="113.0" x2="125.26" y2="134.3" stroke="#26a69a" stroke-width="0.75"/>
<rect x="123.83" y="116.1" width="2.85" height="13.1" fill="#26a69a"/>
<line x1="128.90" y1="111.3" x2="128.90" y2="131.6" stroke="#ef5350" stroke-width="0.75"/>
<rect x="127.48" y="116.0" width="2.85" height="9.4" fill="#ef5350"/>
<line x1="132.55" y1="123.3" x2="132.55" y2="149.7" stroke="#ef5350" stroke-width="0.75"/>
<rect x="131.12" y="125.3" width="2.85" height="18.7" fill="#ef5350"/>
<line x1="136.20" y1="133.4" x2="136.20" y2="152.5" stroke="#26a69a" stroke-width="0.75"/>
<rect x="134.77" y="136.6" width="2.85" height="7.3" fill="#26a69a"/>
<line x1="139.84" y1="136.8" x2="139.84" y2="179.0" stroke="#ef5350" stroke-width="0.75"/>
<rect x="138.42" y="137.2" width="2.85" height="29.2" fill="#ef5350"/>
<line x1="143.49" y1="158.8" x2="143.49" y2="182.2" stroke="#26a69a" stroke-width="0.75"/>
<rect x="142.06" y="165.1" width="2.85" height="1.3" fill="#26a69a"/>
<line x1="147.13" y1="146.7" x2="147.13" y2="169.4" stroke="#26a69a" stroke-width="0.75"/>
<rect x="145.71" y="147.8" width="2.85" height="17.0" fill="#26a69a"/>
<line x1="150.78" y1="137.6" x2="150.78" y2="153.1" stroke="#ef5350" stroke-width="0.75"/>
<rect x="149.35" y="148.3" width="2.85" height="3.5" fill="#ef5350"/>
<line x1="154.42" y1="141.9" x2="154.42" y2="164.8" stroke="#ef5350" stroke-width="0.75"/>
<rect x="153.00" y="152.1" width="2.85" height="11.1" fill="#ef5350"/>
<line x1="158.07" y1="155.9" x2="158.07" y2="180.3" stroke="#ef5350" stroke-width="0.75"/>
<rect x="156.65" y="163.2" width="2.85" height="2.6" fill="#ef5350"/>
<line x1="161.72" y1="144.8" x2="161.72" y2="167.3" stroke="#26a69a" stroke-width="0.75"/>
<rect x="160.29" y="165.0" width="2.85" height="0.8" fill="#26a69a"/>
<line x1="165.36" y1="153.1" x2="165.36" y2="169.9" stroke="#ef5350" stroke-width="0.75"/>
<rect x="163.94" y="165.5" width="2.85" height="2.2" fill="#ef5350"/>
<line x1="169.01" y1="150.5" x2="169.01" y2="168.1" stroke="#26a69a" stroke-width="0.75"/>
<rect x="167.58" y="155.0" width="2.85" height="12.0" fill="#26a69a"/>
<line x1="172.65" y1="136.3" x2="172.65" y2="156.6" stroke="#26a69a" stroke-width="0.75"/>
<rect x="171.23" y="136.8" width="2.85" height="17.6" fill="#26a69a"/>
<line x1="176.30" y1="130.2" x2="176.30" y2="142.3" stroke="#26a69a" stroke-width="0.75"/>
<rect x="174.87" y="133.4" width="2.85" height="3.4" fill="#26a69a"/>
<line x1="179.95" y1="130.9" x2="179.95" y2="147.8" stroke="#ef5350" stroke-width="0.75"/>
<rect x="178.52" y="133.2" width="2.85" height="13.8" fill="#ef5350"/>
<line x1="183.59" y1="146.7" x2="183.59" y2="157.5" stroke="#ef5350" stroke-width="0.75"/>
<rect x="182.17" y="147.0" width="2.85" height="8.0" fill="#ef5350"/>
<line x1="187.24" y1="146.7" x2="187.24" y2="159.2" stroke="#ef5350" stroke-width="0.75"/>
<rect x="185.81" y="155.0" width="2.85" height="1.9" fill="#ef5350"/>
<line x1="190.88" y1="152.8" x2="190.88" y2="167.7" stroke="#ef5350" stroke-width="0.75"/>
<rect x="189.46" y="156.3" width="2.85" height="6.7" fill="#ef5350"/>
<line x1="194.53" y1="156.3" x2="194.53" y2="178.4" stroke="#ef5350" stroke-width="0.75"/>
<rect x="193.10" y="163.0" width="2.85" height="14.1" fill="#ef5350"/>
<line x1="198.17" y1="175.5" x2="198.17" y2="226.7" stroke="#ef5350" stroke-width="0.75"/>
<rect x="196.75" y="176.5" width="2.85" height="21.2" fill="#ef5350"/>
<line x1="201.82" y1="197.5" x2="201.82" y2="211.6" stroke="#ef5350" stroke-width="0.75"/>
<rect x="200.40" y="198.2" width="2.85" height="5.5" fill="#ef5350"/>
<line x1="205.47" y1="200.8" x2="205.47" y2="218.6" stroke="#ef5350" stroke-width="0.75"/>
<rect x="204.04" y="203.7" width="2.85" height="7.9" fill="#ef5350"/>
<line x1="209.11" y1="198.2" x2="209.11" y2="214.0" stroke="#26a69a" stroke-width="0.75"/>
<rect x="207.69" y="210.2" width="2.85" height="0.7" fill="#26a69a"/>
<line x1="212.76" y1="203.3" x2="212.76" y2="231.0" stroke="#ef5350" stroke-width="0.75"/>
<rect x="211.33" y="210.9" width="2.85" height="19.6" fill="#ef5350"/>
<line x1="216.40" y1="229.3" x2="216.40" y2="275.0" stroke="#ef5350" stroke-width="0.75"/>
<rect x="214.98" y="230.9" width="2.85" height="24.2" fill="#ef5350"/>
<line x1="220.05" y1="242.6" x2="220.05" y2="261.0" stroke="#26a69a" stroke-width="0.75"/>
<rect x="218.62" y="249.6" width="2.85" height="5.7" fill="#26a69a"/>
<line x1="223.69" y1="245.4" x2="223.69" y2="265.7" stroke="#ef5350" stroke-width="0.75"/>
<rect x="222.27" y="249.4" width="2.85" height="11.0" fill="#ef5350"/>
<line x1="227.34" y1="243.0" x2="227.34" y2="262.3" stroke="#26a69a" stroke-width="0.75"/>
<rect x="225.92" y="252.0" width="2.85" height="8.4" fill="#26a69a"/>
<line x1="230.99" y1="243.0" x2="230.99" y2="264.5" stroke="#26a69a" stroke-width="0.75"/>
<rect x="229.56" y="247.9" width="2.85" height="3.6" fill="#26a69a"/>
<line x1="234.63" y1="228.6" x2="234.63" y2="248.0" stroke="#26a69a" stroke-width="0.75"/>
<rect x="233.21" y="235.3" width="2.85" height="12.2" fill="#26a69a"/>
<line x1="238.28" y1="223.2" x2="238.28" y2="248.3" stroke="#26a69a" stroke-width="0.75"/>
<rect x="236.85" y="230.3" width="2.85" height="5.1" fill="#26a69a"/>
<line x1="241.92" y1="226.1" x2="241.92" y2="235.0" stroke="#26a69a" stroke-width="0.75"/>
<rect x="240.50" y="228.3" width="2.85" height="1.2" fill="#26a69a"/>
<line x1="245.57" y1="215.1" x2="245.57" y2="230.5" stroke="#26a69a" stroke-width="0.75"/>
<rect x="244.14" y="220.1" width="2.85" height="7.3" fill="#26a69a"/>
<line x1="249.22" y1="216.3" x2="249.22" y2="242.6" stroke="#ef5350" stroke-width="0.75"/>
<rect x="247.79" y="220.1" width="2.85" height="17.6" fill="#ef5350"/>
<line x1="252.86" y1="234.4" x2="252.86" y2="249.6" stroke="#ef5350" stroke-width="0.75"/>
<rect x="251.44" y="236.2" width="2.85" height="12.8" fill="#ef5350"/>
<line x1="256.51" y1="240.1" x2="256.51" y2="249.4" stroke="#26a69a" stroke-width="0.75"/>
<rect x="255.08" y="243.2" width="2.85" height="5.8" fill="#26a69a"/>
<line x1="260.15" y1="233.1" x2="260.15" y2="252.5" stroke="#26a69a" stroke-width="0.75"/>
<rect x="258.73" y="234.8" width="2.85" height="8.0" fill="#26a69a"/>
<line x1="263.80" y1="231.6" x2="263.80" y2="254.0" stroke="#ef5350" stroke-width="0.75"/>
<rect x="262.37" y="234.8" width="2.85" height="18.6" fill="#ef5350"/>
<line x1="267.44" y1="248.6" x2="267.44" y2="260.4" stroke="#ef5350" stroke-width="0.75"/>
<rect x="266.02" y="253.3" width="2.85" height="1.4" fill="#ef5350"/>
<line x1="271.09" y1="246.0" x2="271.09" y2="257.9" stroke="#ef5350" stroke-width="0.75"/>
<rect x="269.67" y="253.6" width="2.85" height="0.8" fill="#ef5350"/>
<line x1="274.74" y1="246.4" x2="274.74" y2="255.5" stroke="#26a69a" stroke-width="0.75"/>
<rect x="273.31" y="252.0" width="2.85" height="3.1" fill="#26a69a"/>
<line x1="278.38" y1="250.5" x2="278.38" y2="262.9" stroke="#ef5350" stroke-width="0.75"/>
<rect x="276.96" y="251.2" width="2.85" height="3.5" fill="#ef5350"/>
<line x1="282.03" y1="252.0" x2="282.03" y2="259.8" stroke="#26a69a" stroke-width="0.75"/>
<rect x="280.60" y="253.0" width="2.85" height="1.7" fill="#26a69a"/>
<line x1="285.67" y1="237.5" x2="285.67" y2="255.6" stroke="#26a69a" stroke-width="0.75"/>
<rect x="284.25" y="242.0" width="2.85" height="10.6" fill="#26a69a"/>
<line x1="289.32" y1="234.5" x2="289.32" y2="245.8" stroke="#26a69a" stroke-width="0.75"/>
<rect x="287.89" y="240.2" width="2.85" height="1.4" fill="#26a69a"/>
<line x1="292.97" y1="238.0" x2="292.97" y2="280.1" stroke="#ef5350" stroke-width="0.75"/>
<rect x="291.54" y="240.1" width="2.85" height="31.7" fill="#ef5350"/>
<line x1="296.61" y1="265.5" x2="296.61" y2="276.9" stroke="#ef5350" stroke-width="0.75"/>
<rect x="295.19" y="272.1" width="2.85" height="3.5" fill="#ef5350"/>
<line x1="300.26" y1="267.4" x2="300.26" y2="281.7" stroke="#26a69a" stroke-width="0.75"/>
<rect x="298.83" y="271.2" width="2.85" height="4.4" fill="#26a69a"/>
<line x1="303.90" y1="264.2" x2="303.90" y2="275.0" stroke="#26a69a" stroke-width="0.75"/>
<rect x="302.48" y="266.5" width="2.85" height="4.3" fill="#26a69a"/>
<line x1="307.55" y1="263.6" x2="307.55" y2="271.2" stroke="#ef5350" stroke-width="0.75"/>
<rect x="306.12" y="266.1" width="2.85" height="1.9" fill="#ef5350"/>
<line x1="311.19" y1="260.4" x2="311.19" y2="277.5" stroke="#ef5350" stroke-width="0.75"/>
<rect x="309.77" y="268.0" width="2.85" height="6.4" fill="#ef5350"/>
<line x1="314.84" y1="272.1" x2="314.84" y2="278.8" stroke="#26a69a" stroke-width="0.75"/>
<rect x="313.42" y="273.7" width="2.85" height="1.3" fill="#26a69a"/>
<line x1="318.49" y1="272.5" x2="318.49" y2="278.8" stroke="#ef5350" stroke-width="0.75"/>
<rect x="317.06" y="274.1" width="2.85" height="2.8" fill="#ef5350"/>
<line x1="322.13" y1="268.6" x2="322.13" y2="277.1" stroke="#26a69a" stroke-width="0.75"/>
<rect x="320.71" y="269.3" width="2.85" height="6.6" fill="#26a69a"/>
<line x1="325.78" y1="243.0" x2="325.78" y2="269.5" stroke="#26a69a" stroke-width="0.75"/>
<rect x="324.35" y="247.0" width="2.85" height="22.0" fill="#26a69a"/>
<line x1="329.42" y1="235.6" x2="329.42" y2="251.5" stroke="#26a69a" stroke-width="0.75"/>
<rect x="328.00" y="239.3" width="2.85" height="7.5" fill="#26a69a"/>
<line x1="333.07" y1="232.5" x2="333.07" y2="243.2" stroke="#26a69a" stroke-width="0.75"/>
<rect x="331.64" y="233.7" width="2.85" height="5.1" fill="#26a69a"/>
<line x1="336.71" y1="229.3" x2="336.71" y2="241.3" stroke="#ef5350" stroke-width="0.75"/>
<rect x="335.29" y="233.7" width="2.85" height="2.2" fill="#ef5350"/>
<line x1="340.36" y1="231.2" x2="340.36" y2="244.8" stroke="#ef5350" stroke-width="0.75"/>
<rect x="338.94" y="235.9" width="2.85" height="7.1" fill="#ef5350"/>
<line x1="344.01" y1="224.8" x2="344.01" y2="246.4" stroke="#26a69a" stroke-width="0.75"/>
<rect x="342.58" y="229.3" width="2.85" height="13.7" fill="#26a69a"/>
<line x1="347.65" y1="224.5" x2="347.65" y2="238.2" stroke="#ef5350" stroke-width="0.75"/>
<rect x="346.23" y="229.0" width="2.85" height="4.3" fill="#ef5350"/>
<line x1="351.30" y1="230.3" x2="351.30" y2="242.0" stroke="#ef5350" stroke-width="0.75"/>
<rect x="349.87" y="233.1" width="2.85" height="6.6" fill="#ef5350"/>
<line x1="354.94" y1="238.0" x2="354.94" y2="255.5" stroke="#ef5350" stroke-width="0.75"/>
<rect x="353.52" y="238.8" width="2.85" height="1.7" fill="#ef5350"/>
<line x1="358.59" y1="216.6" x2="358.59" y2="242.2" stroke="#26a69a" stroke-width="0.75"/>
<rect x="357.16" y="219.8" width="2.85" height="20.6" fill="#26a69a"/>
<line x1="362.24" y1="214.3" x2="362.24" y2="225.2" stroke="#ef5350" stroke-width="0.75"/>
<rect x="360.81" y="219.1" width="2.85" height="1.0" fill="#ef5350"/>
<line x1="365.88" y1="215.1" x2="365.88" y2="227.0" stroke="#26a69a" stroke-width="0.75"/>
<rect x="364.46" y="219.1" width="2.85" height="1.3" fill="#26a69a"/>
<line x1="369.53" y1="214.3" x2="369.53" y2="223.9" stroke="#26a69a" stroke-width="0.75"/>
<rect x="368.10" y="218.1" width="2.85" height="1.7" fill="#26a69a"/>
<line x1="373.17" y1="205.4" x2="373.17" y2="219.8" stroke="#26a69a" stroke-width="0.75"/>
<rect x="371.75" y="207.4" width="2.85" height="10.7" fill="#26a69a"/>
<line x1="376.82" y1="206.7" x2="376.82" y2="223.6" stroke="#ef5350" stroke-width="0.75"/>
<rect x="375.39" y="207.4" width="2.85" height="13.6" fill="#ef5350"/>
<line x1="380.46" y1="212.1" x2="380.46" y2="223.9" stroke="#26a69a" stroke-width="0.75"/>
<rect x="379.04" y="217.2" width="2.85" height="3.8" fill="#26a69a"/>
<line x1="384.11" y1="213.0" x2="384.11" y2="222.9" stroke="#ef5350" stroke-width="0.75"/>
<rect x="382.69" y="217.2" width="2.85" height="1.9" fill="#ef5350"/>
<line x1="387.76" y1="218.1" x2="387.76" y2="230.5" stroke="#ef5350" stroke-width="0.75"/>
<rect x="386.33" y="219.1" width="2.85" height="6.6" fill="#ef5350"/>
<line x1="391.40" y1="222.3" x2="391.40" y2="228.3" stroke="#ef5350" stroke-width="0.75"/>
<rect x="389.98" y="225.5" width="2.85" height="1.2" fill="#ef5350"/>
<line x1="395.05" y1="220.1" x2="395.05" y2="230.8" stroke="#26a69a" stroke-width="0.75"/>
<rect x="393.62" y="221.4" width="2.85" height="5.3" fill="#26a69a"/>
<line x1="398.69" y1="219.4" x2="398.69" y2="227.0" stroke="#ef5350" stroke-width="0.75"/>
<rect x="397.27" y="221.0" width="2.85" height="2.9" fill="#ef5350"/>
<line x1="402.34" y1="223.2" x2="402.34" y2="238.8" stroke="#ef5350" stroke-width="0.75"/>
<rect x="400.91" y="223.9" width="2.85" height="10.7" fill="#ef5350"/>
<line x1="405.99" y1="231.2" x2="405.99" y2="241.3" stroke="#26a69a" stroke-width="0.75"/>
<rect x="404.56" y="233.7" width="2.85" height="1.3" fill="#26a69a"/>
<line x1="409.63" y1="215.1" x2="409.63" y2="235.0" stroke="#26a69a" stroke-width="0.75"/>
<rect x="408.21" y="218.5" width="2.85" height="15.2" fill="#26a69a"/>
<line x1="413.28" y1="214.7" x2="413.28" y2="223.6" stroke="#26a69a" stroke-width="0.75"/>
<rect x="411.85" y="216.8" width="2.85" height="1.7" fill="#26a69a"/>
<line x1="416.92" y1="213.0" x2="416.92" y2="221.9" stroke="#ef5350" stroke-width="0.75"/>
<rect x="415.50" y="216.8" width="2.85" height="3.0" fill="#ef5350"/>
<line x1="420.57" y1="207.9" x2="420.57" y2="221.0" stroke="#26a69a" stroke-width="0.75"/>
<rect x="419.14" y="215.9" width="2.85" height="3.9" fill="#26a69a"/>
<line x1="424.21" y1="213.4" x2="424.21" y2="218.9" stroke="#ef5350" stroke-width="0.75"/>
<rect x="422.79" y="215.6" width="2.85" height="1.2" fill="#ef5350"/>
<line x1="427.86" y1="215.6" x2="427.86" y2="221.7" stroke="#ef5350" stroke-width="0.75"/>
<rect x="426.43" y="216.6" width="2.85" height="2.5" fill="#ef5350"/>
<line x1="431.51" y1="216.3" x2="431.51" y2="222.7" stroke="#ef5350" stroke-width="0.75"/>
<rect x="430.08" y="218.5" width="2.85" height="3.4" fill="#ef5350"/>
<line x1="435.15" y1="217.6" x2="435.15" y2="223.6" stroke="#26a69a" stroke-width="0.75"/>
<rect x="433.73" y="220.1" width="2.85" height="1.8" fill="#26a69a"/>
<line x1="438.80" y1="218.4" x2="438.80" y2="239.0" stroke="#ef5350" stroke-width="0.75"/>
<rect x="437.37" y="220.0" width="2.85" height="12.6" fill="#ef5350"/>
<line x1="442.44" y1="230.0" x2="442.44" y2="237.6" stroke="#ef5350" stroke-width="0.75"/>
<rect x="441.02" y="231.5" width="2.85" height="1.7" fill="#ef5350"/>
<line x1="446.09" y1="225.0" x2="446.09" y2="237.0" stroke="#ef5350" stroke-width="0.75"/>
<rect x="444.66" y="233.0" width="2.85" height="1.5" fill="#ef5350"/>
<line x1="449.73" y1="232.0" x2="449.73" y2="237.0" stroke="#ef5350" stroke-width="0.75"/>
<rect x="448.31" y="233.9" width="2.85" height="1.9" fill="#ef5350"/>
<line x1="453.38" y1="231.0" x2="453.38" y2="240.9" stroke="#26a69a" stroke-width="0.75"/>
<rect x="451.96" y="233.2" width="2.85" height="2.6" fill="#26a69a"/>
<line x1="457.03" y1="228.2" x2="457.03" y2="234.8" stroke="#ef5350" stroke-width="0.75"/>
<rect x="455.60" y="233.0" width="2.85" height="1.5" fill="#ef5350"/>
<line x1="460.67" y1="225.0" x2="460.67" y2="236.0" stroke="#26a69a" stroke-width="0.75"/>
<rect x="459.25" y="225.6" width="2.85" height="9.5" fill="#26a69a"/>
<line x1="464.32" y1="224.1" x2="464.32" y2="231.0" stroke="#ef5350" stroke-width="0.75"/>
<rect x="462.89" y="225.6" width="2.85" height="3.2" fill="#ef5350"/>
<line x1="467.96" y1="227.5" x2="467.96" y2="235.8" stroke="#ef5350" stroke-width="0.75"/>
<rect x="466.54" y="228.2" width="2.85" height="4.4" fill="#ef5350"/>
<line x1="471.61" y1="220.8" x2="471.61" y2="233.0" stroke="#26a69a" stroke-width="0.75"/>
<rect x="470.18" y="221.8" width="2.85" height="10.8" fill="#26a69a"/>
<line x1="475.26" y1="204.7" x2="475.26" y2="222.2" stroke="#26a69a" stroke-width="0.75"/>
<rect x="473.83" y="207.2" width="2.85" height="14.6" fill="#26a69a"/>
<line x1="478.90" y1="200.2" x2="478.90" y2="208.5" stroke="#26a69a" stroke-width="0.75"/>
<rect x="477.48" y="202.1" width="2.85" height="5.1" fill="#26a69a"/>
<line x1="482.55" y1="190.1" x2="482.55" y2="204.0" stroke="#26a69a" stroke-width="0.75"/>
<rect x="481.12" y="192.7" width="2.85" height="9.4" fill="#26a69a"/>
<line x1="486.19" y1="188.8" x2="486.19" y2="200.9" stroke="#26a69a" stroke-width="0.75"/>
<rect x="484.77" y="192.2" width="2.85" height="0.7" fill="#26a69a"/>
<line x1="489.84" y1="188.8" x2="489.84" y2="199.6" stroke="#26a69a" stroke-width="0.75"/>
<rect x="488.41" y="191.2" width="2.85" height="0.7" fill="#26a69a"/>
<line x1="493.48" y1="183.2" x2="493.48" y2="195.4" stroke="#26a69a" stroke-width="0.75"/>
<rect x="492.06" y="185.1" width="2.85" height="6.4" fill="#26a69a"/>
<line x1="497.13" y1="170.3" x2="497.13" y2="185.2" stroke="#26a69a" stroke-width="0.75"/>
<rect x="495.70" y="172.5" width="2.85" height="12.3" fill="#26a69a"/>
<line x1="500.78" y1="171.6" x2="500.78" y2="183.9" stroke="#ef5350" stroke-width="0.75"/>
<rect x="499.35" y="172.2" width="2.85" height="6.6" fill="#ef5350"/>
<line x1="504.42" y1="167.8" x2="504.42" y2="183.0" stroke="#26a69a" stroke-width="0.75"/>
<rect x="503.00" y="171.8" width="2.85" height="7.0" fill="#26a69a"/>
<line x1="508.07" y1="165.2" x2="508.07" y2="175.6" stroke="#ef5350" stroke-width="0.75"/>
<rect x="506.64" y="171.6" width="2.85" height="1.2" fill="#ef5350"/>
<line x1="511.71" y1="161.7" x2="511.71" y2="181.7" stroke="#ef5350" stroke-width="0.75"/>
<rect x="510.29" y="172.2" width="2.85" height="0.7" fill="#ef5350"/>
<line x1="515.36" y1="155.1" x2="515.36" y2="175.9" stroke="#26a69a" stroke-width="0.75"/>
<rect x="513.93" y="172.2" width="2.85" height="0.7" fill="#26a69a"/>
<line x1="519.00" y1="166.7" x2="519.00" y2="177.5" stroke="#ef5350" stroke-width="0.75"/>
<rect x="517.58" y="172.1" width="2.85" height="1.2" fill="#ef5350"/>
<line x1="522.65" y1="172.5" x2="522.65" y2="185.8" stroke="#ef5350" stroke-width="0.75"/>
<rect x="521.23" y="173.1" width="2.85" height="1.5" fill="#ef5350"/>
<line x1="526.30" y1="168.6" x2="526.30" y2="175.6" stroke="#26a69a" stroke-width="0.75"/>
<rect x="524.87" y="173.7" width="2.85" height="1.3" fill="#26a69a"/>
<line x1="529.94" y1="158.1" x2="529.94" y2="174.0" stroke="#26a69a" stroke-width="0.75"/>
<rect x="528.52" y="159.8" width="2.85" height="13.9" fill="#26a69a"/>
<line x1="533.59" y1="146.2" x2="533.59" y2="161.0" stroke="#26a69a" stroke-width="0.75"/>
<rect x="532.16" y="147.5" width="2.85" height="12.3" fill="#26a69a"/>
<line x1="537.23" y1="144.0" x2="537.23" y2="151.2" stroke="#26a69a" stroke-width="0.75"/>
<rect x="535.81" y="146.0" width="2.85" height="1.2" fill="#26a69a"/>
<line x1="540.88" y1="120.2" x2="540.88" y2="146.9" stroke="#26a69a" stroke-width="0.75"/>
<rect x="539.45" y="121.7" width="2.85" height="23.6" fill="#26a69a"/>
<line x1="544.53" y1="105.9" x2="544.53" y2="132.5" stroke="#26a69a" stroke-width="0.75"/>
<rect x="543.10" y="108.8" width="2.85" height="12.9" fill="#26a69a"/>
<line x1="548.17" y1="98.9" x2="548.17" y2="118.6" stroke="#ef5350" stroke-width="0.75"/>
<rect x="546.75" y="108.8" width="2.85" height="1.3" fill="#ef5350"/>
<line x1="551.82" y1="108.0" x2="551.82" y2="127.8" stroke="#ef5350" stroke-width="0.75"/>
<rect x="550.39" y="109.7" width="2.85" height="3.2" fill="#ef5350"/>
<line x1="555.46" y1="103.3" x2="555.46" y2="113.9" stroke="#26a69a" stroke-width="0.75"/>
<rect x="554.04" y="104.2" width="2.85" height="8.4" fill="#26a69a"/>
<line x1="559.11" y1="103.7" x2="559.11" y2="119.8" stroke="#ef5350" stroke-width="0.75"/>
<rect x="557.68" y="104.2" width="2.85" height="5.9" fill="#ef5350"/>
<line x1="562.75" y1="102.7" x2="562.75" y2="134.7" stroke="#ef5350" stroke-width="0.75"/>
<rect x="561.33" y="109.7" width="2.85" height="11.0" fill="#ef5350"/>
<line x1="566.40" y1="116.9" x2="566.40" y2="133.4" stroke="#ef5350" stroke-width="0.75"/>
<rect x="564.98" y="120.2" width="2.85" height="0.7" fill="#ef5350"/>
<line x1="570.05" y1="115.1" x2="570.05" y2="125.8" stroke="#ef5350" stroke-width="0.75"/>
<rect x="568.62" y="121.1" width="2.85" height="2.2" fill="#ef5350"/>
<line x1="573.69" y1="121.1" x2="573.69" y2="138.9" stroke="#26a69a" stroke-width="0.75"/>
<rect x="572.27" y="122.1" width="2.85" height="0.7" fill="#26a69a"/>
<line x1="577.34" y1="118.9" x2="577.34" y2="130.4" stroke="#ef5350" stroke-width="0.75"/>
<rect x="575.91" y="122.4" width="2.85" height="6.3" fill="#ef5350"/>
<line x1="580.98" y1="116.9" x2="580.98" y2="130.4" stroke="#26a69a" stroke-width="0.75"/>
<rect x="579.56" y="120.2" width="2.85" height="7.9" fill="#26a69a"/>
<line x1="584.63" y1="105.0" x2="584.63" y2="120.7" stroke="#26a69a" stroke-width="0.75"/>
<rect x="583.20" y="110.9" width="2.85" height="9.3" fill="#26a69a"/>
<line x1="588.27" y1="106.2" x2="588.27" y2="114.8" stroke="#ef5350" stroke-width="0.75"/>
<rect x="586.85" y="111.3" width="2.85" height="1.8" fill="#ef5350"/>
<line x1="591.92" y1="105.0" x2="591.92" y2="114.8" stroke="#26a69a" stroke-width="0.75"/>
<rect x="590.50" y="111.6" width="2.85" height="1.5" fill="#26a69a"/>
<line x1="595.57" y1="110.1" x2="595.57" y2="122.0" stroke="#ef5350" stroke-width="0.75"/>
<rect x="594.14" y="110.9" width="2.85" height="6.4" fill="#ef5350"/>
<line x1="599.21" y1="116.0" x2="599.21" y2="125.5" stroke="#ef5350" stroke-width="0.75"/>
<rect x="597.79" y="116.9" width="2.85" height="8.0" fill="#ef5350"/>
<line x1="602.86" y1="123.8" x2="602.86" y2="133.8" stroke="#26a69a" stroke-width="0.75"/>
<rect x="601.43" y="124.2" width="2.85" height="0.7" fill="#26a69a"/>
<line x1="606.50" y1="122.0" x2="606.50" y2="147.8" stroke="#ef5350" stroke-width="0.75"/>
<rect x="605.08" y="124.9" width="2.85" height="16.9" fill="#ef5350"/>
<line x1="610.15" y1="127.8" x2="610.15" y2="145.9" stroke="#26a69a" stroke-width="0.75"/>
<rect x="608.72" y="129.1" width="2.85" height="12.3" fill="#26a69a"/>
<line x1="613.80" y1="113.9" x2="613.80" y2="129.4" stroke="#26a69a" stroke-width="0.75"/>
<rect x="612.37" y="114.8" width="2.85" height="13.9" fill="#26a69a"/>
<line x1="617.44" y1="113.5" x2="617.44" y2="126.2" stroke="#ef5350" stroke-width="0.75"/>
<rect x="616.02" y="114.8" width="2.85" height="3.1" fill="#ef5350"/>
<line x1="621.09" y1="113.9" x2="621.09" y2="143.1" stroke="#ef5350" stroke-width="0.75"/>
<rect x="619.66" y="117.9" width="2.85" height="23.1" fill="#ef5350"/>
<line x1="624.73" y1="132.0" x2="624.73" y2="166.0" stroke="#26a69a" stroke-width="0.75"/>
<rect x="623.31" y="140.0" width="2.85" height="0.8" fill="#26a69a"/>
<line x1="628.38" y1="132.4" x2="628.38" y2="144.5" stroke="#26a69a" stroke-width="0.75"/>
<rect x="626.95" y="140.0" width="2.85" height="0.7" fill="#26a69a"/>
<line x1="632.02" y1="125.4" x2="632.02" y2="140.5" stroke="#26a69a" stroke-width="0.75"/>
<rect x="630.60" y="128.1" width="2.85" height="11.5" fill="#26a69a"/>
<line x1="635.67" y1="126.8" x2="635.67" y2="144.2" stroke="#ef5350" stroke-width="0.75"/>
<rect x="634.25" y="128.1" width="2.85" height="15.7" fill="#ef5350"/>
<line x1="639.32" y1="138.0" x2="639.32" y2="154.5" stroke="#ef5350" stroke-width="0.75"/>
<rect x="637.89" y="143.8" width="2.85" height="4.5" fill="#ef5350"/>
<line x1="642.96" y1="136.6" x2="642.96" y2="149.2" stroke="#26a69a" stroke-width="0.75"/>
<rect x="641.54" y="141.1" width="2.85" height="7.2" fill="#26a69a"/>
<line x1="646.61" y1="129.0" x2="646.61" y2="143.8" stroke="#26a69a" stroke-width="0.75"/>
<rect x="645.18" y="131.0" width="2.85" height="9.6" fill="#26a69a"/>
<line x1="650.25" y1="122.5" x2="650.25" y2="131.9" stroke="#26a69a" stroke-width="0.75"/>
<rect x="648.83" y="125.0" width="2.85" height="6.0" fill="#26a69a"/>
<line x1="653.90" y1="124.0" x2="653.90" y2="139.4" stroke="#ef5350" stroke-width="0.75"/>
<rect x="652.47" y="125.0" width="2.85" height="7.4" fill="#ef5350"/>
<line x1="657.55" y1="128.1" x2="657.55" y2="140.0" stroke="#26a69a" stroke-width="0.75"/>
<rect x="656.12" y="131.4" width="2.85" height="0.7" fill="#26a69a"/>
<line x1="661.19" y1="119.6" x2="661.19" y2="132.3" stroke="#26a69a" stroke-width="0.75"/>
<rect x="659.77" y="120.2" width="2.85" height="11.7" fill="#26a69a"/>
<line x1="664.84" y1="119.0" x2="664.84" y2="128.5" stroke="#ef5350" stroke-width="0.75"/>
<rect x="663.41" y="120.2" width="2.85" height="3.8" fill="#ef5350"/>
<line x1="668.48" y1="115.2" x2="668.48" y2="126.8" stroke="#ef5350" stroke-width="0.75"/>
<rect x="667.06" y="124.0" width="2.85" height="1.6" fill="#ef5350"/>
<line x1="672.13" y1="97.6" x2="672.13" y2="128.9" stroke="#26a69a" stroke-width="0.75"/>
<rect x="670.70" y="100.1" width="2.85" height="25.0" fill="#26a69a"/>
<line x1="675.77" y1="83.3" x2="675.77" y2="100.5" stroke="#26a69a" stroke-width="0.75"/>
<rect x="674.35" y="87.5" width="2.85" height="12.3" fill="#26a69a"/>
<line x1="679.42" y1="69.7" x2="679.42" y2="88.0" stroke="#26a69a" stroke-width="0.75"/>
<rect x="678.00" y="73.1" width="2.85" height="14.4" fill="#26a69a"/>
<line x1="683.07" y1="67.1" x2="683.07" y2="83.3" stroke="#26a69a" stroke-width="0.75"/>
<rect x="681.64" y="68.4" width="2.85" height="4.5" fill="#26a69a"/>
<line x1="686.71" y1="57.0" x2="686.71" y2="73.5" stroke="#26a69a" stroke-width="0.75"/>
<rect x="685.29" y="59.1" width="2.85" height="9.3" fill="#26a69a"/>
<line x1="690.36" y1="58.0" x2="690.36" y2="74.8" stroke="#ef5350" stroke-width="0.75"/>
<rect x="688.93" y="58.6" width="2.85" height="0.7" fill="#ef5350"/>
<line x1="694.00" y1="54.8" x2="694.00" y2="82.8" stroke="#ef5350" stroke-width="0.75"/>
<rect x="692.58" y="59.1" width="2.85" height="16.9" fill="#ef5350"/>
<line x1="697.65" y1="67.8" x2="697.65" y2="79.8" stroke="#ef5350" stroke-width="0.75"/>
<rect x="696.22" y="76.0" width="2.85" height="0.9" fill="#ef5350"/>
<line x1="701.29" y1="65.5" x2="701.29" y2="79.5" stroke="#26a69a" stroke-width="0.75"/>
<rect x="699.87" y="67.1" width="2.85" height="8.9" fill="#26a69a"/>
<line x1="704.94" y1="62.1" x2="704.94" y2="79.8" stroke="#ef5350" stroke-width="0.75"/>
<rect x="703.52" y="67.1" width="2.85" height="7.7" fill="#ef5350"/>
<line x1="708.59" y1="57.9" x2="708.59" y2="84.3" stroke="#26a69a" stroke-width="0.75"/>
<rect x="707.16" y="66.8" width="2.85" height="8.0" fill="#26a69a"/>
<line x1="712.23" y1="56.1" x2="712.23" y2="69.7" stroke="#26a69a" stroke-width="0.75"/>
<rect x="710.81" y="65.9" width="2.85" height="1.2" fill="#26a69a"/>
<line x1="715.88" y1="61.2" x2="715.88" y2="79.8" stroke="#ef5350" stroke-width="0.75"/>
<rect x="714.45" y="65.9" width="2.85" height="10.8" fill="#ef5350"/>
<line x1="719.52" y1="70.3" x2="719.52" y2="94.2" stroke="#ef5350" stroke-width="0.75"/>
<rect x="718.10" y="76.9" width="2.85" height="3.6" fill="#ef5350"/>
<line x1="723.17" y1="74.1" x2="723.17" y2="83.3" stroke="#26a69a" stroke-width="0.75"/>
<rect x="721.74" y="78.9" width="2.85" height="1.6" fill="#26a69a"/>
<line x1="726.82" y1="74.1" x2="726.82" y2="84.3" stroke="#ef5350" stroke-width="0.75"/>
<rect x="725.39" y="78.6" width="2.85" height="0.7" fill="#ef5350"/>
<line x1="730.46" y1="78.5" x2="730.46" y2="107.3" stroke="#ef5350" stroke-width="0.75"/>
<rect x="729.04" y="79.2" width="2.85" height="1.9" fill="#ef5350"/>
<line x1="734.11" y1="80.5" x2="734.11" y2="105.2" stroke="#ef5350" stroke-width="0.75"/>
<rect x="732.68" y="81.1" width="2.85" height="23.5" fill="#ef5350"/>
<line x1="737.75" y1="97.6" x2="737.75" y2="113.6" stroke="#26a69a" stroke-width="0.75"/>
<rect x="736.33" y="102.4" width="2.85" height="1.8" fill="#26a69a"/>
<line x1="741.40" y1="93.7" x2="741.40" y2="104.0" stroke="#26a69a" stroke-width="0.75"/>
<rect x="739.97" y="96.8" width="2.85" height="5.4" fill="#26a69a"/>
<line x1="745.04" y1="92.0" x2="745.04" y2="104.5" stroke="#ef5350" stroke-width="0.75"/>
<rect x="743.62" y="96.7" width="2.85" height="6.9" fill="#ef5350"/>
<line x1="748.69" y1="95.2" x2="748.69" y2="115.1" stroke="#ef5350" stroke-width="0.75"/>
<rect x="747.27" y="103.6" width="2.85" height="9.3" fill="#ef5350"/>
<line x1="752.34" y1="100.0" x2="752.34" y2="121.8" stroke="#26a69a" stroke-width="0.75"/>
<rect x="750.91" y="104.2" width="2.85" height="8.5" fill="#26a69a"/>
<line x1="755.98" y1="100.0" x2="755.98" y2="106.4" stroke="#26a69a" stroke-width="0.75"/>
<rect x="754.56" y="102.8" width="2.85" height="1.5" fill="#26a69a"/>
<line x1="759.63" y1="87.0" x2="759.63" y2="103.0" stroke="#26a69a" stroke-width="0.75"/>
<rect x="758.20" y="90.0" width="2.85" height="12.4" fill="#26a69a"/>
<line x1="763.27" y1="85.3" x2="763.27" y2="91.3" stroke="#ef5350" stroke-width="0.75"/>
<rect x="761.85" y="88.4" width="2.85" height="0.7" fill="#ef5350"/>
<line x1="766.92" y1="70.1" x2="766.92" y2="91.3" stroke="#26a69a" stroke-width="0.75"/>
<rect x="765.49" y="72.9" width="2.85" height="17.1" fill="#26a69a"/>
<line x1="770.57" y1="68.8" x2="770.57" y2="77.3" stroke="#26a69a" stroke-width="0.75"/>
<rect x="769.14" y="71.6" width="2.85" height="1.3" fill="#26a69a"/>
<line x1="774.21" y1="63.7" x2="774.21" y2="77.3" stroke="#26a69a" stroke-width="0.75"/>
<rect x="772.79" y="69.0" width="2.85" height="2.3" fill="#26a69a"/>
<line x1="777.86" y1="65.9" x2="777.86" y2="77.9" stroke="#ef5350" stroke-width="0.75"/>
<rect x="776.43" y="69.0" width="2.85" height="4.9" fill="#ef5350"/>
<line x1="781.50" y1="71.0" x2="781.50" y2="80.7" stroke="#ef5350" stroke-width="0.75"/>
<rect x="780.08" y="73.0" width="2.85" height="0.7" fill="#ef5350"/>
<line x1="785.15" y1="66.3" x2="785.15" y2="78.3" stroke="#ef5350" stroke-width="0.75"/>
<rect x="783.72" y="73.0" width="2.85" height="0.7" fill="#ef5350"/>
<line x1="788.79" y1="69.4" x2="788.79" y2="84.7" stroke="#ef5350" stroke-width="0.75"/>
<rect x="787.37" y="73.9" width="2.85" height="9.2" fill="#ef5350"/>
<line x1="792.44" y1="71.4" x2="792.44" y2="84.7" stroke="#26a69a" stroke-width="0.75"/>
<rect x="791.01" y="72.2" width="2.85" height="10.6" fill="#26a69a"/>
<line x1="796.09" y1="68.8" x2="796.09" y2="76.4" stroke="#26a69a" stroke-width="0.75"/>
<rect x="794.66" y="71.4" width="2.85" height="0.7" fill="#26a69a"/>
<line x1="799.73" y1="56.1" x2="799.73" y2="73.2" stroke="#26a69a" stroke-width="0.75"/>
<rect x="798.31" y="57.4" width="2.85" height="13.6" fill="#26a69a"/>
<line x1="803.38" y1="48.1" x2="803.38" y2="60.3" stroke="#26a69a" stroke-width="0.75"/>
<rect x="801.95" y="51.0" width="2.85" height="6.4" fill="#26a69a"/>
<line x1="807.02" y1="47.2" x2="807.02" y2="55.7" stroke="#26a69a" stroke-width="0.75"/>
<rect x="805.60" y="48.9" width="2.85" height="1.5" fill="#26a69a"/>
<line x1="810.67" y1="47.2" x2="810.67" y2="61.6" stroke="#ef5350" stroke-width="0.75"/>
<rect x="809.24" y="48.9" width="2.85" height="9.4" fill="#ef5350"/>
<line x1="814.31" y1="46.8" x2="814.31" y2="59.0" stroke="#26a69a" stroke-width="0.75"/>
<rect x="812.89" y="47.6" width="2.85" height="10.4" fill="#26a69a"/>
<line x1="817.96" y1="39.6" x2="817.96" y2="49.8" stroke="#26a69a" stroke-width="0.75"/>
<rect x="816.54" y="47.3" width="2.85" height="0.7" fill="#26a69a"/>
<line x1="821.61" y1="45.1" x2="821.61" y2="55.2" stroke="#ef5350" stroke-width="0.75"/>
<rect x="820.18" y="47.2" width="2.85" height="1.7" fill="#ef5350"/>
<line x1="825.25" y1="47.9" x2="825.25" y2="57.4" stroke="#ef5350" stroke-width="0.75"/>
<rect x="823.83" y="48.9" width="2.85" height="7.2" fill="#ef5350"/>
<line x1="828.90" y1="50.4" x2="828.90" y2="58.0" stroke="#26a69a" stroke-width="0.75"/>
<rect x="827.47" y="53.2" width="2.85" height="2.9" fill="#26a69a"/>
<line x1="832.54" y1="43.0" x2="832.54" y2="54.0" stroke="#26a69a" stroke-width="0.75"/>
<rect x="831.12" y="46.3" width="2.85" height="6.9" fill="#26a69a"/>
<line x1="836.19" y1="42.1" x2="836.19" y2="47.9" stroke="#ef5350" stroke-width="0.75"/>
<rect x="834.76" y="46.0" width="2.85" height="0.7" fill="#ef5350"/>
<line x1="839.84" y1="45.9" x2="839.84" y2="57.4" stroke="#ef5350" stroke-width="0.75"/>
<rect x="838.41" y="46.6" width="2.85" height="5.3" fill="#ef5350"/>
<line x1="843.48" y1="37.1" x2="843.48" y2="52.9" stroke="#26a69a" stroke-width="0.75"/>
<rect x="842.06" y="40.2" width="2.85" height="11.7" fill="#26a69a"/>
<line x1="847.13" y1="36.2" x2="847.13" y2="73.9" stroke="#ef5350" stroke-width="0.75"/>
<rect x="845.70" y="40.0" width="2.85" height="10.1" fill="#ef5350"/>
<line x1="850.77" y1="47.2" x2="850.77" y2="65.6" stroke="#ef5350" stroke-width="0.75"/>
<rect x="849.35" y="50.1" width="2.85" height="8.9" fill="#ef5350"/>
<line x1="854.42" y1="50.1" x2="854.42" y2="61.8" stroke="#26a69a" stroke-width="0.75"/>
<rect x="852.99" y="51.0" width="2.85" height="7.3" fill="#26a69a"/>
<line x1="858.06" y1="49.1" x2="858.06" y2="62.8" stroke="#ef5350" stroke-width="0.75"/>
<rect x="856.64" y="51.0" width="2.85" height="5.7" fill="#ef5350"/>
<line x1="861.71" y1="56.0" x2="861.71" y2="75.9" stroke="#ef5350" stroke-width="0.75"/>
<rect x="860.29" y="56.7" width="2.85" height="8.2" fill="#ef5350"/>
<line x1="865.36" y1="59.3" x2="865.36" y2="79.7" stroke="#ef5350" stroke-width="0.75"/>
<rect x="863.93" y="64.4" width="2.85" height="13.5" fill="#ef5350"/>
<line x1="869.00" y1="75.1" x2="869.00" y2="97.8" stroke="#ef5350" stroke-width="0.75"/>
<rect x="867.58" y="77.9" width="2.85" height="11.3" fill="#ef5350"/>
<line x1="872.65" y1="79.0" x2="872.65" y2="91.1" stroke="#26a69a" stroke-width="0.75"/>
<rect x="871.22" y="84.1" width="2.85" height="4.5" fill="#26a69a"/>
<line x1="876.29" y1="77.1" x2="876.29" y2="93.6" stroke="#ef5350" stroke-width="0.75"/>
<rect x="874.87" y="84.1" width="2.85" height="0.7" fill="#ef5350"/>
<line x1="879.94" y1="76.2" x2="879.94" y2="86.7" stroke="#ef5350" stroke-width="0.75"/>
<rect x="878.51" y="84.1" width="2.85" height="1.9" fill="#ef5350"/>
<line x1="883.58" y1="83.1" x2="883.58" y2="94.0" stroke="#ef5350" stroke-width="0.75"/>
<rect x="882.16" y="85.8" width="2.85" height="0.7" fill="#ef5350"/>
<line x1="887.23" y1="84.0" x2="887.23" y2="90.2" stroke="#ef5350" stroke-width="0.75"/>
<rect x="885.81" y="86.6" width="2.85" height="2.3" fill="#ef5350"/>
<line x1="6.5" y1="88.64" x2="975.5" y2="88.64" stroke="#ef5350" stroke-width="0.75" stroke-dasharray="1.1,1.1" stroke-opacity="0.65"/>
<rect x="6.5" y="379.5" width="969.0" height="28.0" fill="#7e57c2" fill-opacity="0.10"/>
<path d="M6.50,379.5 L6.50,376.50 L8.59,380.00 L12.24,394.40 L15.88,392.50 L19.53,390.80 L23.18,391.50 L26.82,393.70 L30.47,395.40 L34.11,394.00 L37.76,394.90 L41.41,396.60 L45.05,394.40 L48.70,391.50 L52.34,387.80 L55.99,384.90 L59.63,384.20 L63.28,383.40 L66.93,380.80 L70.57,384.90 L74.22,385.60 L77.86,389.30 L81.51,386.40 L85.15,384.20 L88.80,382.00 L92.45,381.20 L96.09,380.50 L99.74,379.00 L103.38,378.30 L107.03,384.20 L110.68,386.40 L114.32,391.10 L117.97,391.50 L121.61,393.40 L125.26,389.30 L128.90,393.00 L132.55,397.40 L136.20,395.20 L139.84,401.30 L143.49,400.30 L147.13,395.90 L150.78,397.40 L154.42,399.30 L158.07,399.80 L161.72,399.80 L165.36,400.30 L169.01,396.30 L172.65,391.50 L176.30,390.50 L179.95,394.40 L183.59,396.30 L187.24,396.60 L190.88,397.80 L194.53,400.70 L198.17,403.70 L201.82,405.10 L205.47,406.60 L209.11,406.10 L212.76,408.30 L216.40,410.50 L220.05,409.10 L223.69,409.80 L227.34,408.00 L230.99,407.20 L234.63,403.70 L238.28,402.50 L241.92,402.20 L245.57,399.80 L249.22,403.20 L252.86,404.40 L256.51,403.20 L260.15,400.70 L263.80,403.70 L267.44,403.90 L271.09,403.70 L274.74,403.20 L278.38,403.70 L282.03,402.80 L285.67,399.30 L289.32,398.80 L292.97,404.70 L296.61,405.40 L300.26,403.70 L303.90,402.50 L307.55,402.80 L311.19,403.90 L314.84,403.90 L318.49,404.20 L322.13,402.50 L325.78,394.40 L329.42,391.50 L333.07,390.00 L336.71,390.80 L340.36,393.40 L344.01,389.00 L347.65,390.80 L351.30,393.00 L354.94,393.40 L358.59,386.40 L362.24,386.70 L365.88,386.40 L369.53,386.10 L373.17,382.70 L376.82,388.60 L380.46,387.80 L384.11,388.60 L387.76,391.50 L391.40,392.20 L395.05,390.00 L398.69,391.10 L402.34,395.90 L405.99,395.20 L409.63,389.30 L413.28,388.60 L416.92,390.00 L420.57,388.10 L424.21,389.00 L427.86,390.80 L431.51,391.90 L435.15,391.50 L438.80,397.40 L442.44,397.60 L446.09,398.40 L449.73,398.80 L453.38,397.40 L457.03,397.80 L460.67,392.50 L464.32,394.00 L467.96,396.30 L471.61,390.00 L475.26,383.40 L478.90,381.70 L482.55,378.70 L486.19,378.30 L489.84,378.30 L493.48,376.10 L497.13,372.90 L500.78,378.70 L504.42,376.10 L508.07,376.80 L511.71,377.60 L515.36,377.30 L519.00,378.70 L522.65,380.20 L526.30,379.00 L529.94,373.90 L533.59,371.00 L537.23,370.30 L540.88,366.20 L544.53,365.10 L548.17,365.90 L551.82,368.50 L555.46,367.60 L559.11,372.50 L562.75,380.80 L566.40,381.20 L570.05,382.70 L573.69,382.30 L577.34,386.40 L580.98,382.70 L584.63,379.80 L588.27,381.20 L591.92,380.50 L595.57,384.90 L599.21,389.30 L602.86,390.00 L606.50,397.40 L610.15,392.20 L613.80,387.10 L617.44,388.60 L621.09,396.60 L624.73,396.60 L628.38,396.30 L632.02,392.20 L635.67,396.90 L639.32,398.40 L642.96,395.90 L646.61,392.50 L650.25,390.50 L653.90,393.40 L657.55,393.00 L661.19,389.30 L664.84,390.80 L668.48,391.10 L672.13,383.40 L675.77,379.80 L679.42,376.80 L683.07,375.80 L686.71,374.40 L690.36,374.40 L694.00,384.20 L697.65,383.70 L701.29,381.70 L704.94,385.20 L708.59,383.40 L712.23,382.70 L715.88,387.10 L719.52,389.30 L723.17,389.30 L726.82,389.00 L730.46,390.00 L734.11,398.40 L737.75,398.10 L741.40,395.90 L745.04,398.10 L748.69,400.70 L752.34,397.80 L755.98,396.60 L759.63,392.50 L763.27,392.20 L766.92,386.40 L770.57,385.60 L774.21,385.20 L777.86,387.50 L781.50,387.50 L785.15,387.50 L788.79,392.20 L792.44,387.80 L796.09,387.10 L799.73,382.30 L803.38,380.20 L807.02,380.20 L810.67,385.60 L814.31,382.30 L817.96,382.00 L821.61,382.70 L825.25,387.50 L828.90,386.40 L832.54,383.10 L836.19,384.20 L839.84,387.50 L843.48,382.70 L847.13,388.60 L850.77,392.50 L854.42,390.00 L858.06,392.20 L861.71,395.40 L865.36,399.50 L869.00,402.80 L872.65,400.30 L876.29,400.30 L879.94,401.30 L883.58,401.70 L887.23,401.90 L887.23,379.5 Z" fill="url(#gg)" clip-path="url(#c70)"/>
<line x1="6.5" y1="379.5" x2="975.5" y2="379.5" stroke="#85878f" stroke-width="0.9" stroke-dasharray="3.3,2.9" stroke-opacity="1"/>
<line x1="6.5" y1="393.5" x2="975.5" y2="393.5" stroke="#85878f" stroke-width="0.9" stroke-dasharray="3.3,2.9" stroke-opacity="0.45"/>
<line x1="6.5" y1="407.5" x2="975.5" y2="407.5" stroke="#85878f" stroke-width="0.9" stroke-dasharray="3.3,2.9" stroke-opacity="1"/>
<polyline points="7.20,373.90 18.60,379.80 33.30,385.60 45.00,390.00 58.20,391.90 69.90,390.00 81.60,387.80 91.90,385.60 105.10,383.10 115.30,384.20 128.50,386.10 140.20,389.30 150.00,392.20 157.30,395.20 164.60,396.60 179.30,397.40 193.90,397.80 208.60,399.30 217.40,401.00 227.60,404.20 237.90,406.10 252.50,405.70 267.20,403.90 278.90,403.20 287.70,402.40 296.00,403.00 304.80,402.50 318.00,403.70 322.40,402.80 339.90,399.30 354.60,395.20 366.30,391.90 373.60,389.30 383.90,388.60 398.50,389.00 413.20,389.60 427.80,390.80 438.10,391.50 444.00,392.00 450.80,393.70 461.00,393.40 471.30,394.40 480.10,393.70 488.90,391.10 500.60,385.20 510.80,381.20 519.60,378.30 529.90,376.80 544.50,374.60 559.20,372.50 573.80,373.50 590.00,376.40 596.80,379.00 607.00,384.20 617.30,386.10 631.90,389.30 643.70,392.50 653.90,393.70 667.10,393.70 675.90,391.50 690.50,385.60 702.30,383.40 712.50,381.70 719.80,381.70 728.60,383.10 736.00,385.90 742.80,389.30 753.00,392.50 763.30,394.40 777.90,393.40 789.70,391.10 801.40,387.80 813.10,385.20 824.80,384.90 836.50,383.70 845.30,383.70 858.50,386.40 870.20,390.50 884.00,394.90 886.80,395.30" fill="none" stroke="#f7e55a" stroke-width="1.0" stroke-linejoin="round" />
<polyline points="6.50,376.50 8.59,380.00 12.24,394.40 15.88,392.50 19.53,390.80 23.18,391.50 26.82,393.70 30.47,395.40 34.11,394.00 37.76,394.90 41.41,396.60 45.05,394.40 48.70,391.50 52.34,387.80 55.99,384.90 59.63,384.20 63.28,383.40 66.93,380.80 70.57,384.90 74.22,385.60 77.86,389.30 81.51,386.40 85.15,384.20 88.80,382.00 92.45,381.20 96.09,380.50 99.74,379.00 103.38,378.30 107.03,384.20 110.68,386.40 114.32,391.10 117.97,391.50 121.61,393.40 125.26,389.30 128.90,393.00 132.55,397.40 136.20,395.20 139.84,401.30 143.49,400.30 147.13,395.90 150.78,397.40 154.42,399.30 158.07,399.80 161.72,399.80 165.36,400.30 169.01,396.30 172.65,391.50 176.30,390.50 179.95,394.40 183.59,396.30 187.24,396.60 190.88,397.80 194.53,400.70 198.17,403.70 201.82,405.10 205.47,406.60 209.11,406.10 212.76,408.30 216.40,410.50 220.05,409.10 223.69,409.80 227.34,408.00 230.99,407.20 234.63,403.70 238.28,402.50 241.92,402.20 245.57,399.80 249.22,403.20 252.86,404.40 256.51,403.20 260.15,400.70 263.80,403.70 267.44,403.90 271.09,403.70 274.74,403.20 278.38,403.70 282.03,402.80 285.67,399.30 289.32,398.80 292.97,404.70 296.61,405.40 300.26,403.70 303.90,402.50 307.55,402.80 311.19,403.90 314.84,403.90 318.49,404.20 322.13,402.50 325.78,394.40 329.42,391.50 333.07,390.00 336.71,390.80 340.36,393.40 344.01,389.00 347.65,390.80 351.30,393.00 354.94,393.40 358.59,386.40 362.24,386.70 365.88,386.40 369.53,386.10 373.17,382.70 376.82,388.60 380.46,387.80 384.11,388.60 387.76,391.50 391.40,392.20 395.05,390.00 398.69,391.10 402.34,395.90 405.99,395.20 409.63,389.30 413.28,388.60 416.92,390.00 420.57,388.10 424.21,389.00 427.86,390.80 431.51,391.90 435.15,391.50 438.80,397.40 442.44,397.60 446.09,398.40 449.73,398.80 453.38,397.40 457.03,397.80 460.67,392.50 464.32,394.00 467.96,396.30 471.61,390.00 475.26,383.40 478.90,381.70 482.55,378.70 486.19,378.30 489.84,378.30 493.48,376.10 497.13,372.90 500.78,378.70 504.42,376.10 508.07,376.80 511.71,377.60 515.36,377.30 519.00,378.70 522.65,380.20 526.30,379.00 529.94,373.90 533.59,371.00 537.23,370.30 540.88,366.20 544.53,365.10 548.17,365.90 551.82,368.50 555.46,367.60 559.11,372.50 562.75,380.80 566.40,381.20 570.05,382.70 573.69,382.30 577.34,386.40 580.98,382.70 584.63,379.80 588.27,381.20 591.92,380.50 595.57,384.90 599.21,389.30 602.86,390.00 606.50,397.40 610.15,392.20 613.80,387.10 617.44,388.60 621.09,396.60 624.73,396.60 628.38,396.30 632.02,392.20 635.67,396.90 639.32,398.40 642.96,395.90 646.61,392.50 650.25,390.50 653.90,393.40 657.55,393.00 661.19,389.30 664.84,390.80 668.48,391.10 672.13,383.40 675.77,379.80 679.42,376.80 683.07,375.80 686.71,374.40 690.36,374.40 694.00,384.20 697.65,383.70 701.29,381.70 704.94,385.20 708.59,383.40 712.23,382.70 715.88,387.10 719.52,389.30 723.17,389.30 726.82,389.00 730.46,390.00 734.11,398.40 737.75,398.10 741.40,395.90 745.04,398.10 748.69,400.70 752.34,397.80 755.98,396.60 759.63,392.50 763.27,392.20 766.92,386.40 770.57,385.60 774.21,385.20 777.86,387.50 781.50,387.50 785.15,387.50 788.79,392.20 792.44,387.80 796.09,387.10 799.73,382.30 803.38,380.20 807.02,380.20 810.67,385.60 814.31,382.30 817.96,382.00 821.61,382.70 825.25,387.50 828.90,386.40 832.54,383.10 836.19,384.20 839.84,387.50 843.48,382.70 847.13,388.60 850.77,392.50 854.42,390.00 858.06,392.20 861.71,395.40 865.36,399.50 869.00,402.80 872.65,400.30 876.29,400.30 879.94,401.30 883.58,401.70 887.23,401.90" fill="none" stroke="#8660cc" stroke-width="1.0" stroke-linejoin="round" />
</g>
<text x="897" y="34.94" font-size="8.3" fill="#2962ff" stroke="#2962ff" stroke-width="0.15">1.618 (4.41 T)</text>
<text x="897" y="50.25" font-size="8.3" fill="#f23645" stroke="#f23645" stroke-width="0.15">1.414 (3.95 T)</text>
<text x="897" y="62.38" font-size="8.3" fill="#ff9800" stroke="#ff9800" stroke-width="0.15">1.272 (3.62 T)</text>
<text x="897" y="88.49" font-size="8.3" fill="#787b86" stroke="#787b86" stroke-width="0.15">1 (3 T)</text>
<text x="897" y="112.72" font-size="8.3" fill="#00bcd4" stroke="#00bcd4" stroke-width="0.15">0.786 (2.52 T)</text>
<text x="897" y="136.09" font-size="8.3" fill="#089981" stroke="#089981" stroke-width="0.15">0.618 (2.13 T)</text>
<text x="897" y="154.19" font-size="8.3" fill="#4caf50" stroke="#4caf50" stroke-width="0.15">0.5 (1.87 T)</text>
<text x="897" y="175.86" font-size="8.3" fill="#ff9800" stroke="#ff9800" stroke-width="0.15">0.382 (1.6 T)</text>
<text x="897" y="207.97" font-size="8.3" fill="#f23645" stroke="#f23645" stroke-width="0.15">0.236 (1.27 T)</text>
<text x="897" y="285.37" font-size="8.3" fill="#787b86" stroke="#787b86" stroke-width="0.15">0 (727.73 B)</text>
<g stroke="#e8ebf1" stroke-width="1" fill="none">
<line x1="6.5" y1="19.5" x2="1017.5" y2="19.5"/>
<line x1="6.5" y1="19.5" x2="6.5" y2="430.5"/>
<line x1="1017.5" y1="19.5" x2="1017.5" y2="430.5" stroke="#f0f2f6"/>
<line x1="6.5" y1="430.5" x2="1017.5" y2="430.5"/>
<line x1="6.5" y1="362.5" x2="1017.5" y2="362.5" stroke="#eef1f6"/>
</g>
<line x1="6.5" y1="411.5" x2="1017.5" y2="411.5" stroke="#a3a5ad" stroke-width="1.8"/>
<line x1="975.5" y1="19.5" x2="975.5" y2="430.5" stroke="#868993" stroke-width="0.9"/>
<text x="981.5" y="48.10" font-size="8" fill="#50535e" stroke="#50535e" stroke-width="0.12" textLength="10.0" lengthAdjust="spacingAndGlyphs">4 T</text>
<text x="981.5" y="76.96" font-size="8" fill="#50535e" stroke="#50535e" stroke-width="0.12" textLength="19.8" lengthAdjust="spacingAndGlyphs">3.25 T</text>
<text x="981.5" y="105.33" font-size="8" fill="#50535e" stroke="#50535e" stroke-width="0.12" textLength="19.8" lengthAdjust="spacingAndGlyphs">2.65 T</text>
<text x="981.5" y="128.08" font-size="8" fill="#50535e" stroke="#50535e" stroke-width="0.12" textLength="19.8" lengthAdjust="spacingAndGlyphs">2.25 T</text>
<text x="981.5" y="155.28" font-size="8" fill="#50535e" stroke="#50535e" stroke-width="0.12" textLength="19.8" lengthAdjust="spacingAndGlyphs">1.85 T</text>
<text x="981.5" y="179.88" font-size="8" fill="#50535e" stroke="#50535e" stroke-width="0.12" textLength="19.8" lengthAdjust="spacingAndGlyphs">1.55 T</text>
<text x="981.5" y="209.78" font-size="8" fill="#50535e" stroke="#50535e" stroke-width="0.12" textLength="19.8" lengthAdjust="spacingAndGlyphs">1.25 T</text>
<text x="981.5" y="234.01" font-size="8" fill="#50535e" stroke="#50535e" stroke-width="0.12" textLength="19.8" lengthAdjust="spacingAndGlyphs">1.05 T</text>
<text x="981.5" y="256.99" font-size="8" fill="#50535e" stroke="#50535e" stroke-width="0.12" textLength="18.4" lengthAdjust="spacingAndGlyphs">890 B</text>
<text x="981.5" y="277.12" font-size="8" fill="#50535e" stroke="#50535e" stroke-width="0.12" textLength="18.4" lengthAdjust="spacingAndGlyphs">770 B</text>
<text x="981.5" y="301.75" font-size="8" fill="#50535e" stroke="#50535e" stroke-width="0.12" textLength="18.4" lengthAdjust="spacingAndGlyphs">645 B</text>
<text x="981.5" y="325.16" font-size="8" fill="#50535e" stroke="#50535e" stroke-width="0.12" textLength="18.4" lengthAdjust="spacingAndGlyphs">545 B</text>
<text x="981.5" y="347.23" font-size="8" fill="#50535e" stroke="#50535e" stroke-width="0.12" textLength="18.4" lengthAdjust="spacingAndGlyphs">465 B</text>
<text x="981.5" y="375.80" font-size="8" fill="#50535e" stroke="#50535e" stroke-width="0.12" textLength="18.0" lengthAdjust="spacingAndGlyphs">80.00</text>
<text x="981.5" y="403.70" font-size="8" fill="#50535e" stroke="#50535e" stroke-width="0.12" textLength="18.0" lengthAdjust="spacingAndGlyphs">40.00</text>
<rect x="978" y="22" width="36.5" height="17" rx="3" fill="#fff" stroke="#f0f3fa" stroke-width="1"/>
<text x="984.5" y="33.4" font-size="8.3" fill="#131722" stroke="#131722" stroke-width="0.12" textLength="14.8" lengthAdjust="spacingAndGlyphs">USD</text>
<rect x="948" y="83.2" width="27.6" height="10.8" rx="1.2" fill="#ef5350"/>
<text x="951.7" y="91.6" font-size="7.9" fill="#fff" stroke="#fff" stroke-width="0.25" textLength="19.4" lengthAdjust="spacingAndGlyphs">TOTAL</text>
<rect x="976" y="83.2" width="31.3" height="19.7" rx="1.2" fill="#ef5350"/>
<text x="981.5" y="92.0" font-size="8" fill="#fff" textLength="20.2" lengthAdjust="spacingAndGlyphs">2.92 T</text>
<text x="981.5" y="101.0" font-size="8" fill="#fff" fill-opacity="0.92" textLength="22.6" lengthAdjust="spacingAndGlyphs">3d 16h</text>
<text x="37.76" y="424" font-size="8" text-anchor="middle" fill="#50535e">Jul</text>
<text x="132.55" y="424" font-size="8" text-anchor="middle" fill="#33363f" stroke="#33363f" stroke-width="0.25">2022</text>
<text x="227.34" y="424" font-size="8" text-anchor="middle" fill="#50535e">Jul</text>
<text x="322.13" y="424" font-size="8" text-anchor="middle" fill="#33363f" stroke="#33363f" stroke-width="0.25">2023</text>
<text x="416.92" y="424" font-size="8" text-anchor="middle" fill="#50535e">Jul</text>
<text x="511.71" y="424" font-size="8" text-anchor="middle" fill="#33363f" stroke="#33363f" stroke-width="0.25">2024</text>
<text x="606.50" y="424" font-size="8" text-anchor="middle" fill="#50535e">Jul</text>
<text x="704.94" y="424" font-size="8" text-anchor="middle" fill="#33363f" stroke="#33363f" stroke-width="0.25">2025</text>
<text x="799.73" y="424" font-size="8" text-anchor="middle" fill="#50535e">Jul</text>
<text x="894.52" y="424" font-size="8" text-anchor="middle" fill="#33363f" stroke="#33363f" stroke-width="0.25">2026</text>
<text x="7.3" y="13.6" font-size="8" fill="#131722" stroke="#131722" stroke-width="0.12" textLength="54.2" lengthAdjust="spacingAndGlyphs">Jake_Simmons</text>
<text x="64.9" y="13.6" font-size="8" fill="#131722" stroke="#131722" stroke-width="0.12" textLength="28.8" lengthAdjust="spacingAndGlyphs">created</text>
<text x="96.7" y="13.6" font-size="8" fill="#131722" stroke="#131722" stroke-width="0.12" textLength="16.8" lengthAdjust="spacingAndGlyphs">with</text>
<text x="116.4" y="13.6" font-size="8" fill="#131722" stroke="#131722" stroke-width="0.12" textLength="65.9" lengthAdjust="spacingAndGlyphs">TradingView.com,</text>
<text x="185.8" y="13.6" font-size="8" fill="#131722" stroke="#131722" stroke-width="0.12" textLength="12.9" lengthAdjust="spacingAndGlyphs">Dec</text>
<text x="202.6" y="13.6" font-size="8" fill="#131722" stroke="#131722" stroke-width="0.12" textLength="11.3" lengthAdjust="spacingAndGlyphs">25,</text>
<text x="216.9" y="13.6" font-size="8" fill="#131722" stroke="#131722" stroke-width="0.12" textLength="17.3" lengthAdjust="spacingAndGlyphs">2025</text>
<text x="237.4" y="13.6" font-size="8" fill="#131722" stroke="#131722" stroke-width="0.12" textLength="19.9" lengthAdjust="spacingAndGlyphs">03:45</text>
<text x="261.2" y="13.6" font-size="8" fill="#131722" stroke="#131722" stroke-width="0.12" textLength="22.5" lengthAdjust="spacingAndGlyphs">UTC-5</text>
<text x="12.7" y="32.6" font-size="8.2" fill="#454853" stroke="#454853" stroke-width="0.1" textLength="24.2" lengthAdjust="spacingAndGlyphs" >Crypto</text>
<text x="40.0" y="32.6" font-size="8.2" fill="#454853" stroke="#454853" stroke-width="0.1" textLength="19.5" lengthAdjust="spacingAndGlyphs" >Total</text>
<text x="62.6" y="32.6" font-size="8.2" fill="#454853" stroke="#454853" stroke-width="0.1" textLength="24.6" lengthAdjust="spacingAndGlyphs" >Market</text>
<text x="90.9" y="32.6" font-size="8.2" fill="#454853" stroke="#454853" stroke-width="0.1" textLength="15.7" lengthAdjust="spacingAndGlyphs" >Cap,</text>
<text x="110.7" y="32.6" font-size="8.2" fill="#454853" stroke="#454853" stroke-width="0.1" textLength="3.8" lengthAdjust="spacingAndGlyphs" >$</text>
<text x="119.2" y="32.6" font-size="8.2" fill="#454853" stroke="#454853" stroke-width="0.1" >·</text>
<text x="123.7" y="32.6" font-size="8.2" fill="#454853" stroke="#454853" stroke-width="0.1" textLength="10.6" lengthAdjust="spacingAndGlyphs" >1W</text>
<text x="137.7" y="32.6" font-size="8.2" fill="#454853" stroke="#454853" stroke-width="0.1" >·</text>
<text x="142.9" y="32.6" font-size="8.2" fill="#454853" stroke="#454853" stroke-width="0.1" textLength="43.8" lengthAdjust="spacingAndGlyphs" >CRYPTOCAP</text>
<text x="192.3" y="32.6" font-size="8.2" fill="#454853" stroke="#454853" stroke-width="0.1" >O</text>
<text x="198.7" y="32.6" font-size="8.2" fill="#ef4f4c" stroke="#ef4f4c" stroke-width="0.1" textLength="21.4" lengthAdjust="spacingAndGlyphs" >2.97 T</text>
<text x="226.6" y="32.6" font-size="8.2" fill="#454853" stroke="#454853" stroke-width="0.1" textLength="5.2" lengthAdjust="spacingAndGlyphs" >H</text>
<text x="231.9" y="32.6" font-size="8.2" fill="#ef4f4c" stroke="#ef4f4c" stroke-width="0.1" textLength="21.9" lengthAdjust="spacingAndGlyphs" >3.03 T</text>
<text x="260.6" y="32.6" font-size="8.2" fill="#454853" stroke="#454853" stroke-width="0.1" textLength="3.4" lengthAdjust="spacingAndGlyphs" >L</text>
<text x="264.2" y="32.6" font-size="8.2" fill="#ef4f4c" stroke="#ef4f4c" stroke-width="0.1" textLength="21.8" lengthAdjust="spacingAndGlyphs" >2.89 T</text>
<text x="293.4" y="32.6" font-size="8.2" fill="#454853" stroke="#454853" stroke-width="0.1" textLength="4.5" lengthAdjust="spacingAndGlyphs" >C</text>
<text x="297.9" y="32.6" font-size="8.2" fill="#ef4f4c" stroke="#ef4f4c" stroke-width="0.1" textLength="21.8" lengthAdjust="spacingAndGlyphs" >2.92 T</text>
<text x="326.5" y="32.6" font-size="8.2" fill="#ef4f4c" stroke="#ef4f4c" stroke-width="0.1" textLength="66.5" lengthAdjust="spacingAndGlyphs" >−44.87 B (−1.51%)</text>
<text x="12.8" y="44.5" font-size="8.2" fill="#454853" stroke="#454853" stroke-width="0.1" textLength="10.7" lengthAdjust="spacingAndGlyphs" >Vol</text>
<text x="29.4" y="44.5" font-size="8.2" fill="#ef4f4c" stroke="#ef4f4c" stroke-width="0.1" textLength="31.5" lengthAdjust="spacingAndGlyphs" >128.71 B</text>
<text x="12.7" y="56.4" font-size="8.2" fill="#454853" stroke="#454853" stroke-width="0.1" textLength="15.0" lengthAdjust="spacingAndGlyphs" >EMA</text>
<text x="30.8" y="56.4" font-size="8.2" fill="#454853" stroke="#454853" stroke-width="0.1" textLength="57.8" lengthAdjust="spacingAndGlyphs" >20/50/100/200</text>
<text x="94" y="56.4" font-size="8.2" fill="#ff2a2a" stroke="#ff2a2a" stroke-width="0.3" textLength="22.8" lengthAdjust="spacingAndGlyphs">3.33 T</text>
<text x="122.9" y="56.4" font-size="8.2" fill="#ff9800" stroke="#ff9800" stroke-width="0.3" textLength="21.8" lengthAdjust="spacingAndGlyphs">3.25 T</text>
<text x="151.3" y="56.4" font-size="8.2" fill="#21e6f5" stroke="#21e6f5" stroke-width="0.3" textLength="21.6" lengthAdjust="spacingAndGlyphs">2.88 T</text>
<text x="179.1" y="56.4" font-size="8.2" fill="#2a2aff" stroke="#2a2aff" stroke-width="0.3" textLength="22.0" lengthAdjust="spacingAndGlyphs">2.31 T</text>
<text x="12.8" y="376.8" font-size="8.2" fill="#454853" stroke="#454853" stroke-width="0.1" textLength="53.5" lengthAdjust="spacingAndGlyphs" >RSI (14, close)</text>
<text x="72.1" y="376.8" font-size="8.2" fill="#7e57c2" stroke="#7e57c2" stroke-width="0.1" textLength="19.8" lengthAdjust="spacingAndGlyphs" >37.93</text>
<text x="97.7" y="376.8" font-size="8.2" fill="#f2d935" stroke="#f2d935" stroke-width="0.1" textLength="20.6" lengthAdjust="spacingAndGlyphs" >47.25</text>
<text x="124.6" y="376.8" font-size="8.6" fill="#454853" stroke="#454853" stroke-width="0.1" >∅</text>
<text x="138.2" y="376.8" font-size="8.6" fill="#454853" stroke="#454853" stroke-width="0.1" >∅</text>
<g fill="#17181c">
<path d="M8.2,446.1 h9.6 v10.6 h-5.7 v-6.5 h-3.9 z"/>
<circle cx="20.35" cy="447.75" r="1.4"/>
<path d="M24.2,446.1 h4.9 l-3.3,10.6 h-5.1 z"/>
<text x="34.0" y="456.5" font-size="13.8" stroke="#17181c" stroke-width="0.55" stroke-linejoin="round" textLength="85.6" lengthAdjust="spacingAndGlyphs">TradingView</text>
</g>
</g>
</svg>
</body></html>
